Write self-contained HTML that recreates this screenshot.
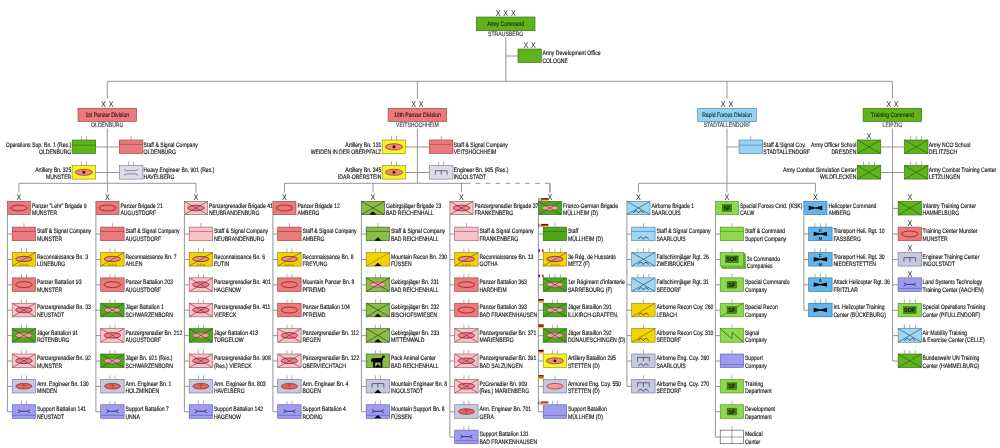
<!DOCTYPE html>
<html><head><meta charset="utf-8"><title>German Army Structure</title>
<style>
html,body{margin:0;padding:0;background:#fff;}
body{width:1000px;height:448px;overflow:hidden;}
svg{display:block;filter:blur(0.45px);}
text{font-family:"Liberation Sans",Arial,sans-serif;text-rendering:geometricPrecision;}
</style></head><body>
<svg width="1000" height="448" viewBox="0 0 1000 448">
<rect width="1000" height="448" fill="#fff"/>
<rect x="476.30" y="17.00" width="58.70" height="13.70" fill="#5fb31b" stroke="#2f6a08" stroke-width="0.6"/>
<text transform="translate(505.65 26.20) scale(0.8 1)" font-size="6.4" text-anchor="middle" fill="#16300a" stroke="#16300a" stroke-width="0.14">Army Command</text>
<text transform="translate(498.10 15.90) scale(0.86 1)" font-size="8.4" text-anchor="middle" fill="#1a1a1a">X</text>
<text transform="translate(505.70 15.90) scale(0.86 1)" font-size="8.4" text-anchor="middle" fill="#1a1a1a">X</text>
<text transform="translate(513.30 15.90) scale(0.86 1)" font-size="8.4" text-anchor="middle" fill="#1a1a1a">X</text>
<text transform="translate(505.70 36.30) scale(0.8 1)" font-size="6.4" text-anchor="middle" fill="#333" stroke="#333" stroke-width="0.14">STRAUSBERG</text>
<line x1="505.90" y1="37.50" x2="505.90" y2="81.30" stroke="#8a8a8a" stroke-width="0.9"/>
<line x1="505.90" y1="56.00" x2="518.00" y2="56.00" stroke="#8a8a8a" stroke-width="0.9"/>
<rect x="518.00" y="49.00" width="23.40" height="13.50" fill="#5fb31b" stroke="#2f6a08" stroke-width="0.6"/>
<text transform="translate(525.90 47.60) scale(0.86 1)" font-size="8.4" text-anchor="middle" fill="#1a1a1a">X</text>
<text transform="translate(533.50 47.60) scale(0.86 1)" font-size="8.4" text-anchor="middle" fill="#1a1a1a">X</text>
<text transform="translate(542.40 55.30) scale(0.8 1)" font-size="6.4" fill="#111111" stroke="#111111" stroke-width="0.14">Army Development Office</text>
<text transform="translate(542.40 62.60) scale(0.8 1)" font-size="6.4" fill="#111111" stroke="#111111" stroke-width="0.14">COLOGNE</text>
<line x1="107.30" y1="81.30" x2="892.40" y2="81.30" stroke="#8a8a8a" stroke-width="0.9"/>
<line x1="107.30" y1="81.30" x2="107.30" y2="98.60" stroke="#8a8a8a" stroke-width="0.9"/>
<text transform="translate(103.50 106.70) scale(0.86 1)" font-size="8.4" text-anchor="middle" fill="#1a1a1a">X</text>
<text transform="translate(111.10 106.70) scale(0.86 1)" font-size="8.4" text-anchor="middle" fill="#1a1a1a">X</text>
<rect x="78.00" y="108.30" width="58.60" height="13.30" fill="#ea7a7c" stroke="#9b3b3b" stroke-width="0.6"/>
<text transform="translate(107.30 117.00) scale(0.8 1)" font-size="6.4" text-anchor="middle" fill="#3a1010" stroke="#3a1010" stroke-width="0.14">1st Panzer Division</text>
<text transform="translate(107.30 127.40) scale(0.8 1)" font-size="6.4" text-anchor="middle" fill="#3a4252" stroke="#3a4252" stroke-width="0.14">OLDENBURG</text>
<line x1="417.40" y1="81.30" x2="417.40" y2="98.60" stroke="#8a8a8a" stroke-width="0.9"/>
<text transform="translate(413.60 106.70) scale(0.86 1)" font-size="8.4" text-anchor="middle" fill="#1a1a1a">X</text>
<text transform="translate(421.20 106.70) scale(0.86 1)" font-size="8.4" text-anchor="middle" fill="#1a1a1a">X</text>
<rect x="388.10" y="108.30" width="58.60" height="13.30" fill="#ea7a7c" stroke="#9b3b3b" stroke-width="0.6"/>
<text transform="translate(417.40 117.00) scale(0.8 1)" font-size="6.4" text-anchor="middle" fill="#3a1010" stroke="#3a1010" stroke-width="0.14">10th Panzer Division</text>
<text transform="translate(417.40 127.40) scale(0.8 1)" font-size="6.4" text-anchor="middle" fill="#3a4252" stroke="#3a4252" stroke-width="0.14">VEITSHÖCHHEIM</text>
<line x1="727.00" y1="81.30" x2="727.00" y2="98.60" stroke="#8a8a8a" stroke-width="0.9"/>
<text transform="translate(723.20 106.70) scale(0.86 1)" font-size="8.4" text-anchor="middle" fill="#1a1a1a">X</text>
<text transform="translate(730.80 106.70) scale(0.86 1)" font-size="8.4" text-anchor="middle" fill="#1a1a1a">X</text>
<rect x="697.70" y="108.30" width="58.60" height="13.30" fill="#95d3f3" stroke="#4a7a9a" stroke-width="0.6"/>
<text transform="translate(727.00 117.00) scale(0.8 1)" font-size="6.4" text-anchor="middle" fill="#102a4a" stroke="#102a4a" stroke-width="0.14">Rapid Forces Division</text>
<text transform="translate(727.00 127.40) scale(0.8 1)" font-size="6.4" text-anchor="middle" fill="#3a4252" stroke="#3a4252" stroke-width="0.14">STADTALLENDORF</text>
<line x1="892.40" y1="81.30" x2="892.40" y2="98.60" stroke="#8a8a8a" stroke-width="0.9"/>
<text transform="translate(888.60 106.70) scale(0.86 1)" font-size="8.4" text-anchor="middle" fill="#1a1a1a">X</text>
<text transform="translate(896.20 106.70) scale(0.86 1)" font-size="8.4" text-anchor="middle" fill="#1a1a1a">X</text>
<rect x="863.10" y="108.30" width="58.60" height="13.30" fill="#5fb31b" stroke="#2f6a08" stroke-width="0.6"/>
<text transform="translate(892.40 117.00) scale(0.8 1)" font-size="6.4" text-anchor="middle" fill="#16300a" stroke="#16300a" stroke-width="0.14">Training Command</text>
<text transform="translate(892.40 127.40) scale(0.8 1)" font-size="6.4" text-anchor="middle" fill="#3a4252" stroke="#3a4252" stroke-width="0.14">LEIPZIG</text>
<line x1="107.30" y1="128.60" x2="107.30" y2="183.30" stroke="#8a8a8a" stroke-width="0.9"/>
<rect x="72.10" y="140.00" width="23.60" height="13.60" fill="#5fb31b" stroke="#2f6a08" stroke-width="0.6"/>
<line x1="72.10" y1="145.17" x2="95.70" y2="145.17" stroke="#2f6a08" stroke-width="0.6"/>
<line x1="81.40" y1="136.00" x2="81.40" y2="140.00" stroke="#777" stroke-width="0.6"/>
<line x1="86.40" y1="136.00" x2="86.40" y2="140.00" stroke="#777" stroke-width="0.6"/>
<text transform="translate(71.30 146.70) scale(0.8 1)" font-size="6.4" text-anchor="end" fill="#111111" stroke="#111111" stroke-width="0.14">Operations Sup. Bn. 1 (Res.)</text>
<text transform="translate(71.30 153.70) scale(0.8 1)" font-size="6.4" text-anchor="end" fill="#111111" stroke="#111111" stroke-width="0.14">OLDENBURG</text>
<line x1="95.70" y1="147.00" x2="107.30" y2="147.00" stroke="#8a8a8a" stroke-width="0.9"/>
<rect x="119.30" y="140.00" width="23.60" height="13.60" fill="#ea7a7c" stroke="#9b3b3b" stroke-width="0.6"/>
<line x1="119.30" y1="144.35" x2="142.90" y2="144.35" stroke="#9b3b3b" stroke-width="0.6"/>
<line x1="131.10" y1="136.00" x2="131.10" y2="140.00" stroke="#777" stroke-width="0.6"/>
<text transform="translate(143.60 146.70) scale(0.8 1)" font-size="6.4" fill="#111111" stroke="#111111" stroke-width="0.14">Staff &amp; Signal Company</text>
<text transform="translate(143.60 153.70) scale(0.8 1)" font-size="6.4" fill="#111111" stroke="#111111" stroke-width="0.14">OLDENBURG</text>
<line x1="107.30" y1="147.00" x2="119.30" y2="147.00" stroke="#8a8a8a" stroke-width="0.9"/>
<rect x="72.10" y="165.50" width="23.60" height="13.60" fill="#f5f520" stroke="#8a8a20" stroke-width="0.6"/>
<ellipse cx="83.90" cy="172.30" rx="8.60" ry="3.00" fill="#ef8a86" stroke="#9a2a1a" stroke-width="0.7"/>
<circle cx="83.90" cy="172.30" r="1.4" fill="#000"/>
<line x1="81.40" y1="161.50" x2="81.40" y2="165.50" stroke="#777" stroke-width="0.6"/>
<line x1="86.40" y1="161.50" x2="86.40" y2="165.50" stroke="#777" stroke-width="0.6"/>
<text transform="translate(71.30 172.20) scale(0.8 1)" font-size="6.4" text-anchor="end" fill="#111111" stroke="#111111" stroke-width="0.14">Artillery Bn. 325</text>
<text transform="translate(71.30 179.20) scale(0.8 1)" font-size="6.4" text-anchor="end" fill="#111111" stroke="#111111" stroke-width="0.14">MUNSTER</text>
<line x1="95.70" y1="172.50" x2="107.30" y2="172.50" stroke="#8a8a8a" stroke-width="0.9"/>
<rect x="119.30" y="165.50" width="23.60" height="13.60" fill="#dcdde9" stroke="#7a7a86" stroke-width="0.6"/>
<path d="M124.02 169.31L126.38 170.67H135.82L138.18 169.31M124.02 175.29L126.38 173.93H135.82L138.18 175.29" fill="none" stroke="#4a4a5a" stroke-width="0.6"/>
<line x1="128.60" y1="161.50" x2="128.60" y2="165.50" stroke="#777" stroke-width="0.6"/>
<line x1="133.60" y1="161.50" x2="133.60" y2="165.50" stroke="#777" stroke-width="0.6"/>
<text transform="translate(143.60 172.20) scale(0.8 1)" font-size="6.4" fill="#111111" stroke="#111111" stroke-width="0.14">Heavy Engineer Bn. 901 (Res.)</text>
<text transform="translate(143.60 179.20) scale(0.8 1)" font-size="6.4" fill="#111111" stroke="#111111" stroke-width="0.14">HAVELBERG</text>
<line x1="107.30" y1="172.50" x2="119.30" y2="172.50" stroke="#8a8a8a" stroke-width="0.9"/>
<line x1="417.40" y1="128.60" x2="417.40" y2="183.30" stroke="#8a8a8a" stroke-width="0.9"/>
<rect x="382.20" y="140.00" width="23.60" height="13.60" fill="#f5f520" stroke="#8a8a20" stroke-width="0.6"/>
<ellipse cx="394.00" cy="146.80" rx="8.60" ry="3.00" fill="#ef8a86" stroke="#9a2a1a" stroke-width="0.7"/>
<circle cx="394.00" cy="146.80" r="1.4" fill="#000"/>
<line x1="391.50" y1="136.00" x2="391.50" y2="140.00" stroke="#777" stroke-width="0.6"/>
<line x1="396.50" y1="136.00" x2="396.50" y2="140.00" stroke="#777" stroke-width="0.6"/>
<text transform="translate(381.40 146.70) scale(0.8 1)" font-size="6.4" text-anchor="end" fill="#111111" stroke="#111111" stroke-width="0.14">Artillery Bn. 131</text>
<text transform="translate(381.40 153.70) scale(0.8 1)" font-size="6.4" text-anchor="end" fill="#111111" stroke="#111111" stroke-width="0.14">WEIDEN IN DER OBERPFALZ</text>
<line x1="405.80" y1="147.00" x2="417.40" y2="147.00" stroke="#8a8a8a" stroke-width="0.9"/>
<rect x="429.40" y="140.00" width="23.60" height="13.60" fill="#ea7a7c" stroke="#9b3b3b" stroke-width="0.6"/>
<line x1="429.40" y1="144.35" x2="453.00" y2="144.35" stroke="#9b3b3b" stroke-width="0.6"/>
<line x1="441.20" y1="136.00" x2="441.20" y2="140.00" stroke="#777" stroke-width="0.6"/>
<text transform="translate(453.70 146.70) scale(0.8 1)" font-size="6.4" fill="#111111" stroke="#111111" stroke-width="0.14">Staff &amp; Signal Company</text>
<text transform="translate(453.70 153.70) scale(0.8 1)" font-size="6.4" fill="#111111" stroke="#111111" stroke-width="0.14">VEITSHÖCHHEIM</text>
<line x1="417.40" y1="147.00" x2="429.40" y2="147.00" stroke="#8a8a8a" stroke-width="0.9"/>
<rect x="382.20" y="165.50" width="23.60" height="13.60" fill="#f5f520" stroke="#8a8a20" stroke-width="0.6"/>
<ellipse cx="394.00" cy="172.30" rx="8.60" ry="3.00" fill="#ef8a86" stroke="#9a2a1a" stroke-width="0.7"/>
<circle cx="394.00" cy="172.30" r="1.4" fill="#000"/>
<line x1="391.50" y1="161.50" x2="391.50" y2="165.50" stroke="#777" stroke-width="0.6"/>
<line x1="396.50" y1="161.50" x2="396.50" y2="165.50" stroke="#777" stroke-width="0.6"/>
<text transform="translate(381.40 172.20) scale(0.8 1)" font-size="6.4" text-anchor="end" fill="#111111" stroke="#111111" stroke-width="0.14">Artillery Bn. 345</text>
<text transform="translate(381.40 179.20) scale(0.8 1)" font-size="6.4" text-anchor="end" fill="#111111" stroke="#111111" stroke-width="0.14">IDAR-OBERSTEIN</text>
<line x1="405.80" y1="172.50" x2="417.40" y2="172.50" stroke="#8a8a8a" stroke-width="0.9"/>
<rect x="429.40" y="165.50" width="23.60" height="13.60" fill="#dcdde9" stroke="#7a7a86" stroke-width="0.6"/>
<path d="M435.30 174.60V170.70H447.10V174.60M441.20 170.70V174.60" fill="none" stroke="#383850" stroke-width="0.7"/>
<line x1="438.70" y1="161.50" x2="438.70" y2="165.50" stroke="#777" stroke-width="0.6"/>
<line x1="443.70" y1="161.50" x2="443.70" y2="165.50" stroke="#777" stroke-width="0.6"/>
<text transform="translate(453.70 172.20) scale(0.8 1)" font-size="6.4" fill="#111111" stroke="#111111" stroke-width="0.14">Engineer Bn. 905 (Res.)</text>
<text transform="translate(453.70 179.20) scale(0.8 1)" font-size="6.4" fill="#111111" stroke="#111111" stroke-width="0.14">INGOLSTADT</text>
<line x1="417.40" y1="172.50" x2="429.40" y2="172.50" stroke="#8a8a8a" stroke-width="0.9"/>
<line x1="727.00" y1="128.60" x2="727.00" y2="183.30" stroke="#8a8a8a" stroke-width="0.9"/>
<rect x="739.00" y="140.00" width="23.60" height="13.60" fill="#95d3f3" stroke="#4a7a9a" stroke-width="0.6"/>
<line x1="739.00" y1="145.17" x2="762.60" y2="145.17" stroke="#4a7a9a" stroke-width="0.6"/>
<line x1="750.80" y1="136.00" x2="750.80" y2="140.00" stroke="#777" stroke-width="0.6"/>
<text transform="translate(763.30 146.70) scale(0.8 1)" font-size="6.4" fill="#111111" stroke="#111111" stroke-width="0.14">Staff &amp; Signal Coy.</text>
<text transform="translate(763.30 153.70) scale(0.8 1)" font-size="6.4" fill="#111111" stroke="#111111" stroke-width="0.14">STADTALLENDORF</text>
<line x1="727.00" y1="147.00" x2="739.00" y2="147.00" stroke="#8a8a8a" stroke-width="0.9"/>
<rect x="857.20" y="140.00" width="23.60" height="13.60" fill="#5fb31b" stroke="#2f6a08" stroke-width="0.6"/>
<path d="M857.20 140.00L880.80 153.60M880.80 140.00L857.20 153.60" stroke="#2a5a10" stroke-width="0.65" fill="none"/>
<text transform="translate(856.40 146.70) scale(0.8 1)" font-size="6.4" text-anchor="end" fill="#111111" stroke="#111111" stroke-width="0.14">Army Officer School</text>
<text transform="translate(856.40 153.70) scale(0.8 1)" font-size="6.4" text-anchor="end" fill="#111111" stroke="#111111" stroke-width="0.14">DRESDEN</text>
<line x1="880.80" y1="147.00" x2="892.40" y2="147.00" stroke="#8a8a8a" stroke-width="0.9"/>
<text transform="translate(869.00 139.00) scale(0.86 1)" font-size="8.4" text-anchor="middle" fill="#1a1a1a">X</text>
<rect x="904.40" y="140.00" width="23.60" height="13.60" fill="#5fb31b" stroke="#2f6a08" stroke-width="0.6"/>
<path d="M904.40 140.00L928.00 153.60M928.00 140.00L904.40 153.60" stroke="#2a5a10" stroke-width="0.65" fill="none"/>
<line x1="910.70" y1="136.00" x2="910.70" y2="140.00" stroke="#777" stroke-width="0.6"/>
<line x1="916.20" y1="136.00" x2="916.20" y2="140.00" stroke="#777" stroke-width="0.6"/>
<line x1="921.70" y1="136.00" x2="921.70" y2="140.00" stroke="#777" stroke-width="0.6"/>
<text transform="translate(928.70 146.70) scale(0.8 1)" font-size="6.4" fill="#111111" stroke="#111111" stroke-width="0.14">Army NCO School</text>
<text transform="translate(928.70 153.70) scale(0.8 1)" font-size="6.4" fill="#111111" stroke="#111111" stroke-width="0.14">DELITZSCH</text>
<line x1="892.40" y1="147.00" x2="904.40" y2="147.00" stroke="#8a8a8a" stroke-width="0.9"/>
<rect x="857.20" y="165.50" width="23.60" height="13.60" fill="#5fb31b" stroke="#2f6a08" stroke-width="0.6"/>
<path d="M857.20 165.50L880.80 179.10M880.80 165.50L857.20 179.10" stroke="#2a5a10" stroke-width="0.65" fill="none"/>
<line x1="863.50" y1="161.50" x2="863.50" y2="165.50" stroke="#777" stroke-width="0.6"/>
<line x1="869.00" y1="161.50" x2="869.00" y2="165.50" stroke="#777" stroke-width="0.6"/>
<line x1="874.50" y1="161.50" x2="874.50" y2="165.50" stroke="#777" stroke-width="0.6"/>
<text transform="translate(856.40 172.20) scale(0.8 1)" font-size="6.4" text-anchor="end" fill="#111111" stroke="#111111" stroke-width="0.14">Army Combat Simulation Center</text>
<text transform="translate(856.40 179.20) scale(0.8 1)" font-size="6.4" text-anchor="end" fill="#111111" stroke="#111111" stroke-width="0.14">WILDFLECKEN</text>
<line x1="880.80" y1="172.50" x2="892.40" y2="172.50" stroke="#8a8a8a" stroke-width="0.9"/>
<rect x="904.40" y="165.50" width="23.60" height="13.60" fill="#5fb31b" stroke="#2f6a08" stroke-width="0.6"/>
<path d="M904.40 165.50L928.00 179.10M928.00 165.50L904.40 179.10" stroke="#2a5a10" stroke-width="0.65" fill="none"/>
<line x1="910.70" y1="161.50" x2="910.70" y2="165.50" stroke="#777" stroke-width="0.6"/>
<line x1="916.20" y1="161.50" x2="916.20" y2="165.50" stroke="#777" stroke-width="0.6"/>
<line x1="921.70" y1="161.50" x2="921.70" y2="165.50" stroke="#777" stroke-width="0.6"/>
<text transform="translate(928.70 172.20) scale(0.8 1)" font-size="6.4" fill="#111111" stroke="#111111" stroke-width="0.14">Army Combat Training Center</text>
<text transform="translate(928.70 179.20) scale(0.8 1)" font-size="6.4" fill="#111111" stroke="#111111" stroke-width="0.14">LETZLINGEN</text>
<line x1="892.40" y1="172.50" x2="904.40" y2="172.50" stroke="#8a8a8a" stroke-width="0.9"/>
<line x1="18.95" y1="183.30" x2="195.95" y2="183.30" stroke="#8a8a8a" stroke-width="0.9"/>
<line x1="284.45" y1="183.30" x2="470.50" y2="183.30" stroke="#8a8a8a" stroke-width="0.9"/>
<line x1="470.50" y1="183.30" x2="549.95" y2="183.30" stroke="#8a8a8a" stroke-width="0.9" stroke-dasharray="4.7,5.2" stroke-dashoffset="4.7"/>
<line x1="549.95" y1="183.30" x2="549.95" y2="192.00" stroke="#8a8a8a" stroke-width="0.9"/>
<line x1="638.45" y1="183.30" x2="815.45" y2="183.30" stroke="#8a8a8a" stroke-width="0.9"/>
<line x1="18.95" y1="183.30" x2="18.95" y2="192.60" stroke="#8a8a8a" stroke-width="0.9"/>
<text transform="translate(18.95 200.00) scale(0.86 1)" font-size="8.4" text-anchor="middle" fill="#1a1a1a">X</text>
<rect x="7.40" y="201.40" width="23.10" height="13.20" fill="#ea7a7c" stroke="#9b3b3b" stroke-width="0.6"/>
<ellipse cx="18.95" cy="208.00" rx="8.20" ry="2.90" fill="#ea7a7c" stroke="#9a2020" stroke-width="0.85"/>
<text transform="translate(31.90 207.60) scale(0.8 1)" font-size="6.4" fill="#111111" stroke="#111111" stroke-width="0.14">Panzer &quot;Lehr&quot; Brigade 9</text>
<text transform="translate(31.90 215.20) scale(0.8 1)" font-size="6.4" fill="#111111" stroke="#111111" stroke-width="0.14">MUNSTER</text>
<line x1="7.40" y1="214.60" x2="7.40" y2="411.76" stroke="#8a8a8a" stroke-width="0.9"/>
<line x1="7.40" y1="234.10" x2="12.20" y2="234.10" stroke="#8a8a8a" stroke-width="0.9"/>
<rect x="12.20" y="227.10" width="23.40" height="13.60" fill="#ea7a7c" stroke="#9b3b3b" stroke-width="0.6"/>
<line x1="12.20" y1="231.45" x2="35.60" y2="231.45" stroke="#9b3b3b" stroke-width="0.6"/>
<line x1="23.90" y1="223.10" x2="23.90" y2="227.10" stroke="#777" stroke-width="0.6"/>
<text transform="translate(36.90 233.30) scale(0.8 1)" font-size="6.4" fill="#111111" stroke="#111111" stroke-width="0.14">Staff &amp; Signal Company</text>
<text transform="translate(36.90 240.90) scale(0.8 1)" font-size="6.4" fill="#111111" stroke="#111111" stroke-width="0.14">MUNSTER</text>
<line x1="7.40" y1="259.48" x2="12.20" y2="259.48" stroke="#8a8a8a" stroke-width="0.9"/>
<rect x="12.20" y="252.48" width="23.40" height="13.60" fill="#f3d400" stroke="#8a7a10" stroke-width="0.6"/>
<ellipse cx="23.90" cy="258.98" rx="8.20" ry="2.60" fill="#eb8c88" stroke="#8a2a1a" stroke-width="0.8"/>
<path d="M12.20 266.08L35.60 252.48" stroke="#5a4a10" stroke-width="0.6" fill="none"/>
<circle cx="20.70" cy="264.78" r="0.9" fill="none" stroke="#7a4020" stroke-width="0.35"/>
<circle cx="23.90" cy="264.78" r="0.9" fill="none" stroke="#7a4020" stroke-width="0.35"/>
<circle cx="27.10" cy="264.78" r="0.9" fill="none" stroke="#7a4020" stroke-width="0.35"/>
<line x1="21.40" y1="248.48" x2="21.40" y2="252.48" stroke="#777" stroke-width="0.6"/>
<line x1="26.40" y1="248.48" x2="26.40" y2="252.48" stroke="#777" stroke-width="0.6"/>
<text transform="translate(36.90 258.68) scale(0.8 1)" font-size="6.4" fill="#111111" stroke="#111111" stroke-width="0.14">Reconnaissance Bn. 3</text>
<text transform="translate(36.90 266.28) scale(0.8 1)" font-size="6.4" fill="#111111" stroke="#111111" stroke-width="0.14">LÜNEBURG</text>
<line x1="7.40" y1="284.86" x2="12.20" y2="284.86" stroke="#8a8a8a" stroke-width="0.9"/>
<rect x="12.20" y="277.86" width="23.40" height="13.60" fill="#ea7a7c" stroke="#9b3b3b" stroke-width="0.6"/>
<ellipse cx="23.90" cy="284.66" rx="8.20" ry="2.90" fill="#ea7a7c" stroke="#9a2020" stroke-width="0.85"/>
<line x1="21.40" y1="273.86" x2="21.40" y2="277.86" stroke="#777" stroke-width="0.6"/>
<line x1="26.40" y1="273.86" x2="26.40" y2="277.86" stroke="#777" stroke-width="0.6"/>
<text transform="translate(36.90 284.06) scale(0.8 1)" font-size="6.4" fill="#111111" stroke="#111111" stroke-width="0.14">Panzer Battalion 93</text>
<text transform="translate(36.90 291.66) scale(0.8 1)" font-size="6.4" fill="#111111" stroke="#111111" stroke-width="0.14">MUNSTER</text>
<line x1="7.40" y1="310.24" x2="12.20" y2="310.24" stroke="#8a8a8a" stroke-width="0.9"/>
<rect x="12.20" y="303.24" width="23.40" height="13.60" fill="#f8c2c8" stroke="#8a5a60" stroke-width="0.6"/>
<ellipse cx="23.90" cy="310.04" rx="8.20" ry="2.80" fill="#e4848e" stroke="#9a2434" stroke-width="0.85"/>
<path d="M12.20 303.24L35.60 316.84M35.60 303.24L12.20 316.84" stroke="#7a2a38" stroke-width="0.6" fill="none"/>
<line x1="21.40" y1="299.24" x2="21.40" y2="303.24" stroke="#777" stroke-width="0.6"/>
<line x1="26.40" y1="299.24" x2="26.40" y2="303.24" stroke="#777" stroke-width="0.6"/>
<text transform="translate(36.90 309.44) scale(0.8 1)" font-size="6.4" fill="#111111" stroke="#111111" stroke-width="0.14">Panzergrenadier Bn. 33</text>
<text transform="translate(36.90 317.04) scale(0.8 1)" font-size="6.4" fill="#111111" stroke="#111111" stroke-width="0.14">NEUSTADT</text>
<line x1="7.40" y1="335.62" x2="12.20" y2="335.62" stroke="#8a8a8a" stroke-width="0.9"/>
<rect x="12.20" y="328.62" width="23.40" height="13.60" fill="#4fa81c" stroke="#2a6410" stroke-width="0.6"/>
<ellipse cx="23.90" cy="335.42" rx="8.20" ry="2.60" fill="#f0a0a4" stroke="#9a3a3a" stroke-width="0.6"/>
<path d="M12.20 328.62L35.60 342.22M35.60 328.62L12.20 342.22" stroke="#2a5a10" stroke-width="0.65" fill="none"/>
<line x1="21.40" y1="324.62" x2="21.40" y2="328.62" stroke="#777" stroke-width="0.6"/>
<line x1="26.40" y1="324.62" x2="26.40" y2="328.62" stroke="#777" stroke-width="0.6"/>
<text transform="translate(36.90 334.82) scale(0.8 1)" font-size="6.4" fill="#111111" stroke="#111111" stroke-width="0.14">Jäger Battalion 91</text>
<text transform="translate(36.90 342.42) scale(0.8 1)" font-size="6.4" fill="#111111" stroke="#111111" stroke-width="0.14">ROTENBURG</text>
<line x1="7.40" y1="361.00" x2="12.20" y2="361.00" stroke="#8a8a8a" stroke-width="0.9"/>
<rect x="12.20" y="354.00" width="23.40" height="13.60" fill="#f8c2c8" stroke="#8a5a60" stroke-width="0.6"/>
<ellipse cx="23.90" cy="360.80" rx="8.20" ry="2.80" fill="#e4848e" stroke="#9a2434" stroke-width="0.85"/>
<path d="M12.20 354.00L35.60 367.60M35.60 354.00L12.20 367.60" stroke="#7a2a38" stroke-width="0.6" fill="none"/>
<line x1="21.40" y1="350.00" x2="21.40" y2="354.00" stroke="#777" stroke-width="0.6"/>
<line x1="26.40" y1="350.00" x2="26.40" y2="354.00" stroke="#777" stroke-width="0.6"/>
<text transform="translate(36.90 360.20) scale(0.8 1)" font-size="6.4" fill="#111111" stroke="#111111" stroke-width="0.14">Panzergrenadier Bn. 92</text>
<text transform="translate(36.90 367.80) scale(0.8 1)" font-size="6.4" fill="#111111" stroke="#111111" stroke-width="0.14">MUNSTER</text>
<line x1="7.40" y1="386.38" x2="12.20" y2="386.38" stroke="#8a8a8a" stroke-width="0.9"/>
<rect x="12.20" y="379.38" width="23.40" height="13.60" fill="#c6c8df" stroke="#6f7190" stroke-width="0.6"/>
<ellipse cx="23.90" cy="386.18" rx="8.00" ry="2.80" fill="#e8645c" stroke="#8a2020" stroke-width="0.7"/>
<line x1="23.90" y1="383.88" x2="23.90" y2="388.48" stroke="#8a2020" stroke-width="0.4"/>
<line x1="20.90" y1="384.98" x2="26.90" y2="384.98" stroke="#8a2020" stroke-width="0.35"/>
<line x1="21.40" y1="375.38" x2="21.40" y2="379.38" stroke="#777" stroke-width="0.6"/>
<line x1="26.40" y1="375.38" x2="26.40" y2="379.38" stroke="#777" stroke-width="0.6"/>
<text transform="translate(36.90 385.58) scale(0.8 1)" font-size="6.4" fill="#111111" stroke="#111111" stroke-width="0.14">Arm. Engineer Bn. 130</text>
<text transform="translate(36.90 393.18) scale(0.8 1)" font-size="6.4" fill="#111111" stroke="#111111" stroke-width="0.14">MINDEN</text>
<line x1="7.40" y1="411.76" x2="12.20" y2="411.76" stroke="#8a8a8a" stroke-width="0.9"/>
<rect x="12.20" y="404.76" width="23.40" height="13.60" fill="#9d9cf0" stroke="#5a5aa8" stroke-width="0.6"/>
<path d="M17.90 409.66Q19.70 410.96 20.50 411.26Q19.70 411.56 17.90 412.86M20.50 411.26H27.30M29.90 409.66Q28.10 410.96 27.30 411.26Q28.10 411.56 29.90 412.86" fill="none" stroke="#1a1a5a" stroke-width="0.75"/>
<line x1="12.20" y1="415.36" x2="35.60" y2="415.36" stroke="#5a5aa8" stroke-width="0.6"/>
<line x1="21.40" y1="400.76" x2="21.40" y2="404.76" stroke="#777" stroke-width="0.6"/>
<line x1="26.40" y1="400.76" x2="26.40" y2="404.76" stroke="#777" stroke-width="0.6"/>
<text transform="translate(36.90 410.96) scale(0.8 1)" font-size="6.4" fill="#111111" stroke="#111111" stroke-width="0.14">Support Battalion 141</text>
<text transform="translate(36.90 418.56) scale(0.8 1)" font-size="6.4" fill="#111111" stroke="#111111" stroke-width="0.14">NEUSTADT</text>
<line x1="107.45" y1="183.30" x2="107.45" y2="192.60" stroke="#8a8a8a" stroke-width="0.9"/>
<text transform="translate(107.45 200.00) scale(0.86 1)" font-size="8.4" text-anchor="middle" fill="#1a1a1a">X</text>
<rect x="95.90" y="201.40" width="23.10" height="13.20" fill="#ea7a7c" stroke="#9b3b3b" stroke-width="0.6"/>
<ellipse cx="107.45" cy="208.00" rx="8.20" ry="2.90" fill="#ea7a7c" stroke="#9a2020" stroke-width="0.85"/>
<text transform="translate(120.40 207.60) scale(0.8 1)" font-size="6.4" fill="#111111" stroke="#111111" stroke-width="0.14">Panzer Brigade 21</text>
<text transform="translate(120.40 215.20) scale(0.8 1)" font-size="6.4" fill="#111111" stroke="#111111" stroke-width="0.14">AUGUSTDORF</text>
<line x1="95.90" y1="214.60" x2="95.90" y2="411.76" stroke="#8a8a8a" stroke-width="0.9"/>
<line x1="95.90" y1="234.10" x2="100.70" y2="234.10" stroke="#8a8a8a" stroke-width="0.9"/>
<rect x="100.70" y="227.10" width="23.40" height="13.60" fill="#ea7a7c" stroke="#9b3b3b" stroke-width="0.6"/>
<line x1="100.70" y1="231.45" x2="124.10" y2="231.45" stroke="#9b3b3b" stroke-width="0.6"/>
<line x1="112.40" y1="223.10" x2="112.40" y2="227.10" stroke="#777" stroke-width="0.6"/>
<text transform="translate(125.40 233.30) scale(0.8 1)" font-size="6.4" fill="#111111" stroke="#111111" stroke-width="0.14">Staff &amp; Signal Company</text>
<text transform="translate(125.40 240.90) scale(0.8 1)" font-size="6.4" fill="#111111" stroke="#111111" stroke-width="0.14">AUGUSTDORF</text>
<line x1="95.90" y1="259.48" x2="100.70" y2="259.48" stroke="#8a8a8a" stroke-width="0.9"/>
<rect x="100.70" y="252.48" width="23.40" height="13.60" fill="#f3d400" stroke="#8a7a10" stroke-width="0.6"/>
<ellipse cx="112.40" cy="258.98" rx="8.20" ry="2.60" fill="#eb8c88" stroke="#8a2a1a" stroke-width="0.8"/>
<path d="M100.70 266.08L124.10 252.48" stroke="#5a4a10" stroke-width="0.6" fill="none"/>
<circle cx="109.20" cy="264.78" r="0.9" fill="none" stroke="#7a4020" stroke-width="0.35"/>
<circle cx="112.40" cy="264.78" r="0.9" fill="none" stroke="#7a4020" stroke-width="0.35"/>
<circle cx="115.60" cy="264.78" r="0.9" fill="none" stroke="#7a4020" stroke-width="0.35"/>
<line x1="109.90" y1="248.48" x2="109.90" y2="252.48" stroke="#777" stroke-width="0.6"/>
<line x1="114.90" y1="248.48" x2="114.90" y2="252.48" stroke="#777" stroke-width="0.6"/>
<text transform="translate(125.40 258.68) scale(0.8 1)" font-size="6.4" fill="#111111" stroke="#111111" stroke-width="0.14">Reconnaissance Bn. 7</text>
<text transform="translate(125.40 266.28) scale(0.8 1)" font-size="6.4" fill="#111111" stroke="#111111" stroke-width="0.14">AHLEN</text>
<line x1="95.90" y1="284.86" x2="100.70" y2="284.86" stroke="#8a8a8a" stroke-width="0.9"/>
<rect x="100.70" y="277.86" width="23.40" height="13.60" fill="#ea7a7c" stroke="#9b3b3b" stroke-width="0.6"/>
<ellipse cx="112.40" cy="284.66" rx="8.20" ry="2.90" fill="#ea7a7c" stroke="#9a2020" stroke-width="0.85"/>
<line x1="109.90" y1="273.86" x2="109.90" y2="277.86" stroke="#777" stroke-width="0.6"/>
<line x1="114.90" y1="273.86" x2="114.90" y2="277.86" stroke="#777" stroke-width="0.6"/>
<text transform="translate(125.40 284.06) scale(0.8 1)" font-size="6.4" fill="#111111" stroke="#111111" stroke-width="0.14">Panzer Battalion 203</text>
<text transform="translate(125.40 291.66) scale(0.8 1)" font-size="6.4" fill="#111111" stroke="#111111" stroke-width="0.14">AUGUSTDORF</text>
<line x1="95.90" y1="310.24" x2="100.70" y2="310.24" stroke="#8a8a8a" stroke-width="0.9"/>
<rect x="100.70" y="303.24" width="23.40" height="13.60" fill="#4fa81c" stroke="#2a6410" stroke-width="0.6"/>
<ellipse cx="112.40" cy="310.04" rx="8.20" ry="2.60" fill="#f0a0a4" stroke="#9a3a3a" stroke-width="0.6"/>
<path d="M100.70 303.24L124.10 316.84M124.10 303.24L100.70 316.84" stroke="#2a5a10" stroke-width="0.65" fill="none"/>
<line x1="109.90" y1="299.24" x2="109.90" y2="303.24" stroke="#777" stroke-width="0.6"/>
<line x1="114.90" y1="299.24" x2="114.90" y2="303.24" stroke="#777" stroke-width="0.6"/>
<text transform="translate(125.40 309.44) scale(0.8 1)" font-size="6.4" fill="#111111" stroke="#111111" stroke-width="0.14">Jäger Battalion 1</text>
<text transform="translate(125.40 317.04) scale(0.8 1)" font-size="6.4" fill="#111111" stroke="#111111" stroke-width="0.14">SCHWARZENBORN</text>
<line x1="95.90" y1="335.62" x2="100.70" y2="335.62" stroke="#8a8a8a" stroke-width="0.9"/>
<rect x="100.70" y="328.62" width="23.40" height="13.60" fill="#f8c2c8" stroke="#8a5a60" stroke-width="0.6"/>
<ellipse cx="112.40" cy="335.42" rx="8.20" ry="2.80" fill="#e4848e" stroke="#9a2434" stroke-width="0.85"/>
<path d="M100.70 328.62L124.10 342.22M124.10 328.62L100.70 342.22" stroke="#7a2a38" stroke-width="0.6" fill="none"/>
<line x1="109.90" y1="324.62" x2="109.90" y2="328.62" stroke="#777" stroke-width="0.6"/>
<line x1="114.90" y1="324.62" x2="114.90" y2="328.62" stroke="#777" stroke-width="0.6"/>
<text transform="translate(125.40 334.82) scale(0.8 1)" font-size="6.4" fill="#111111" stroke="#111111" stroke-width="0.14">Panzergrenadier Bn. 212</text>
<text transform="translate(125.40 342.42) scale(0.8 1)" font-size="6.4" fill="#111111" stroke="#111111" stroke-width="0.14">AUGUSTDORF</text>
<line x1="95.90" y1="361.00" x2="100.70" y2="361.00" stroke="#8a8a8a" stroke-width="0.9"/>
<rect x="100.70" y="354.00" width="23.40" height="13.60" fill="#4fa81c" stroke="#2a6410" stroke-width="0.6"/>
<ellipse cx="112.40" cy="360.80" rx="8.20" ry="2.60" fill="#f0a0a4" stroke="#9a3a3a" stroke-width="0.6"/>
<path d="M100.70 354.00L124.10 367.60M124.10 354.00L100.70 367.60" stroke="#2a5a10" stroke-width="0.65" fill="none"/>
<line x1="109.90" y1="350.00" x2="109.90" y2="354.00" stroke="#777" stroke-width="0.6"/>
<line x1="114.90" y1="350.00" x2="114.90" y2="354.00" stroke="#777" stroke-width="0.6"/>
<text transform="translate(125.40 360.20) scale(0.8 1)" font-size="6.4" fill="#111111" stroke="#111111" stroke-width="0.14">Jäger Bn. 921 (Res.)</text>
<text transform="translate(125.40 367.80) scale(0.8 1)" font-size="6.4" fill="#111111" stroke="#111111" stroke-width="0.14">SCHWARZENBORN</text>
<line x1="95.90" y1="386.38" x2="100.70" y2="386.38" stroke="#8a8a8a" stroke-width="0.9"/>
<rect x="100.70" y="379.38" width="23.40" height="13.60" fill="#c6c8df" stroke="#6f7190" stroke-width="0.6"/>
<ellipse cx="112.40" cy="386.18" rx="8.00" ry="2.80" fill="#e8645c" stroke="#8a2020" stroke-width="0.7"/>
<line x1="112.40" y1="383.88" x2="112.40" y2="388.48" stroke="#8a2020" stroke-width="0.4"/>
<line x1="109.40" y1="384.98" x2="115.40" y2="384.98" stroke="#8a2020" stroke-width="0.35"/>
<line x1="109.90" y1="375.38" x2="109.90" y2="379.38" stroke="#777" stroke-width="0.6"/>
<line x1="114.90" y1="375.38" x2="114.90" y2="379.38" stroke="#777" stroke-width="0.6"/>
<text transform="translate(125.40 385.58) scale(0.8 1)" font-size="6.4" fill="#111111" stroke="#111111" stroke-width="0.14">Arm. Engineer Bn. 1</text>
<text transform="translate(125.40 393.18) scale(0.8 1)" font-size="6.4" fill="#111111" stroke="#111111" stroke-width="0.14">HOLZMINDEN</text>
<line x1="95.90" y1="411.76" x2="100.70" y2="411.76" stroke="#8a8a8a" stroke-width="0.9"/>
<rect x="100.70" y="404.76" width="23.40" height="13.60" fill="#9d9cf0" stroke="#5a5aa8" stroke-width="0.6"/>
<path d="M106.40 409.66Q108.20 410.96 109.00 411.26Q108.20 411.56 106.40 412.86M109.00 411.26H115.80M118.40 409.66Q116.60 410.96 115.80 411.26Q116.60 411.56 118.40 412.86" fill="none" stroke="#1a1a5a" stroke-width="0.75"/>
<line x1="100.70" y1="415.36" x2="124.10" y2="415.36" stroke="#5a5aa8" stroke-width="0.6"/>
<line x1="109.90" y1="400.76" x2="109.90" y2="404.76" stroke="#777" stroke-width="0.6"/>
<line x1="114.90" y1="400.76" x2="114.90" y2="404.76" stroke="#777" stroke-width="0.6"/>
<text transform="translate(125.40 410.96) scale(0.8 1)" font-size="6.4" fill="#111111" stroke="#111111" stroke-width="0.14">Support Battalion 7</text>
<text transform="translate(125.40 418.56) scale(0.8 1)" font-size="6.4" fill="#111111" stroke="#111111" stroke-width="0.14">UNNA</text>
<line x1="195.95" y1="183.30" x2="195.95" y2="192.60" stroke="#8a8a8a" stroke-width="0.9"/>
<text transform="translate(195.95 200.00) scale(0.86 1)" font-size="8.4" text-anchor="middle" fill="#1a1a1a">X</text>
<rect x="184.40" y="201.40" width="23.10" height="13.20" fill="#f8c2c8" stroke="#8a5a60" stroke-width="0.6"/>
<ellipse cx="195.95" cy="208.00" rx="8.20" ry="2.80" fill="#e4848e" stroke="#9a2434" stroke-width="0.85"/>
<path d="M184.40 201.40L207.50 214.60M207.50 201.40L184.40 214.60" stroke="#7a2a38" stroke-width="0.6" fill="none"/>
<text transform="translate(208.90 207.60) scale(0.8 1)" font-size="6.4" fill="#111111" stroke="#111111" stroke-width="0.14">Panzergrenadier Brigade 41</text>
<text transform="translate(208.90 215.20) scale(0.8 1)" font-size="6.4" fill="#111111" stroke="#111111" stroke-width="0.14">NEUBRANDENBURG</text>
<line x1="184.40" y1="214.60" x2="184.40" y2="411.76" stroke="#8a8a8a" stroke-width="0.9"/>
<line x1="184.40" y1="234.10" x2="189.20" y2="234.10" stroke="#8a8a8a" stroke-width="0.9"/>
<rect x="189.20" y="227.10" width="23.40" height="13.60" fill="#f8c2c8" stroke="#8a5a60" stroke-width="0.6"/>
<line x1="189.20" y1="231.45" x2="212.60" y2="231.45" stroke="#8a5a60" stroke-width="0.6"/>
<line x1="200.90" y1="223.10" x2="200.90" y2="227.10" stroke="#777" stroke-width="0.6"/>
<text transform="translate(213.90 233.30) scale(0.8 1)" font-size="6.4" fill="#111111" stroke="#111111" stroke-width="0.14">Staff &amp; Signal Company</text>
<text transform="translate(213.90 240.90) scale(0.8 1)" font-size="6.4" fill="#111111" stroke="#111111" stroke-width="0.14">NEUBRANDENBURG</text>
<line x1="184.40" y1="259.48" x2="189.20" y2="259.48" stroke="#8a8a8a" stroke-width="0.9"/>
<rect x="189.20" y="252.48" width="23.40" height="13.60" fill="#f3d400" stroke="#8a7a10" stroke-width="0.6"/>
<ellipse cx="200.90" cy="258.98" rx="8.20" ry="2.60" fill="#eb8c88" stroke="#8a2a1a" stroke-width="0.8"/>
<path d="M189.20 266.08L212.60 252.48" stroke="#5a4a10" stroke-width="0.6" fill="none"/>
<circle cx="197.70" cy="264.78" r="0.9" fill="none" stroke="#7a4020" stroke-width="0.35"/>
<circle cx="200.90" cy="264.78" r="0.9" fill="none" stroke="#7a4020" stroke-width="0.35"/>
<circle cx="204.10" cy="264.78" r="0.9" fill="none" stroke="#7a4020" stroke-width="0.35"/>
<line x1="198.40" y1="248.48" x2="198.40" y2="252.48" stroke="#777" stroke-width="0.6"/>
<line x1="203.40" y1="248.48" x2="203.40" y2="252.48" stroke="#777" stroke-width="0.6"/>
<text transform="translate(213.90 258.68) scale(0.8 1)" font-size="6.4" fill="#111111" stroke="#111111" stroke-width="0.14">Reconnaissance Bn. 6</text>
<text transform="translate(213.90 266.28) scale(0.8 1)" font-size="6.4" fill="#111111" stroke="#111111" stroke-width="0.14">EUTIN</text>
<line x1="184.40" y1="284.86" x2="189.20" y2="284.86" stroke="#8a8a8a" stroke-width="0.9"/>
<rect x="189.20" y="277.86" width="23.40" height="13.60" fill="#f8c2c8" stroke="#8a5a60" stroke-width="0.6"/>
<ellipse cx="200.90" cy="284.66" rx="8.20" ry="2.80" fill="#e4848e" stroke="#9a2434" stroke-width="0.85"/>
<path d="M189.20 277.86L212.60 291.46M212.60 277.86L189.20 291.46" stroke="#7a2a38" stroke-width="0.6" fill="none"/>
<line x1="198.40" y1="273.86" x2="198.40" y2="277.86" stroke="#777" stroke-width="0.6"/>
<line x1="203.40" y1="273.86" x2="203.40" y2="277.86" stroke="#777" stroke-width="0.6"/>
<text transform="translate(213.90 284.06) scale(0.8 1)" font-size="6.4" fill="#111111" stroke="#111111" stroke-width="0.14">Panzergrenadier Bn. 401</text>
<text transform="translate(213.90 291.66) scale(0.8 1)" font-size="6.4" fill="#111111" stroke="#111111" stroke-width="0.14">HAGENOW</text>
<line x1="184.40" y1="310.24" x2="189.20" y2="310.24" stroke="#8a8a8a" stroke-width="0.9"/>
<rect x="189.20" y="303.24" width="23.40" height="13.60" fill="#f8c2c8" stroke="#8a5a60" stroke-width="0.6"/>
<ellipse cx="200.90" cy="310.04" rx="8.20" ry="2.80" fill="#e4848e" stroke="#9a2434" stroke-width="0.85"/>
<path d="M189.20 303.24L212.60 316.84M212.60 303.24L189.20 316.84" stroke="#7a2a38" stroke-width="0.6" fill="none"/>
<line x1="198.40" y1="299.24" x2="198.40" y2="303.24" stroke="#777" stroke-width="0.6"/>
<line x1="203.40" y1="299.24" x2="203.40" y2="303.24" stroke="#777" stroke-width="0.6"/>
<text transform="translate(213.90 309.44) scale(0.8 1)" font-size="6.4" fill="#111111" stroke="#111111" stroke-width="0.14">Panzergrenadier Bn. 411</text>
<text transform="translate(213.90 317.04) scale(0.8 1)" font-size="6.4" fill="#111111" stroke="#111111" stroke-width="0.14">VIERECK</text>
<line x1="184.40" y1="335.62" x2="189.20" y2="335.62" stroke="#8a8a8a" stroke-width="0.9"/>
<rect x="189.20" y="328.62" width="23.40" height="13.60" fill="#4fa81c" stroke="#2a6410" stroke-width="0.6"/>
<ellipse cx="200.90" cy="335.42" rx="8.20" ry="2.60" fill="#f0a0a4" stroke="#9a3a3a" stroke-width="0.6"/>
<path d="M189.20 328.62L212.60 342.22M212.60 328.62L189.20 342.22" stroke="#2a5a10" stroke-width="0.65" fill="none"/>
<line x1="198.40" y1="324.62" x2="198.40" y2="328.62" stroke="#777" stroke-width="0.6"/>
<line x1="203.40" y1="324.62" x2="203.40" y2="328.62" stroke="#777" stroke-width="0.6"/>
<text transform="translate(213.90 334.82) scale(0.8 1)" font-size="6.4" fill="#111111" stroke="#111111" stroke-width="0.14">Jäger Battalion 413</text>
<text transform="translate(213.90 342.42) scale(0.8 1)" font-size="6.4" fill="#111111" stroke="#111111" stroke-width="0.14">TORGELOW</text>
<line x1="184.40" y1="361.00" x2="189.20" y2="361.00" stroke="#8a8a8a" stroke-width="0.9"/>
<rect x="189.20" y="354.00" width="23.40" height="13.60" fill="#f8c2c8" stroke="#8a5a60" stroke-width="0.6"/>
<ellipse cx="200.90" cy="360.80" rx="8.20" ry="2.80" fill="#e4848e" stroke="#9a2434" stroke-width="0.85"/>
<path d="M189.20 354.00L212.60 367.60M212.60 354.00L189.20 367.60" stroke="#7a2a38" stroke-width="0.6" fill="none"/>
<line x1="198.40" y1="350.00" x2="198.40" y2="354.00" stroke="#777" stroke-width="0.6"/>
<line x1="203.40" y1="350.00" x2="203.40" y2="354.00" stroke="#777" stroke-width="0.6"/>
<text transform="translate(213.90 360.20) scale(0.8 1)" font-size="6.4" fill="#111111" stroke="#111111" stroke-width="0.14">Panzergrenadier Bn. 908</text>
<text transform="translate(213.90 367.80) scale(0.8 1)" font-size="6.4" fill="#111111" stroke="#111111" stroke-width="0.14">(Res.) VIERECK</text>
<line x1="184.40" y1="386.38" x2="189.20" y2="386.38" stroke="#8a8a8a" stroke-width="0.9"/>
<rect x="189.20" y="379.38" width="23.40" height="13.60" fill="#c6c8df" stroke="#6f7190" stroke-width="0.6"/>
<ellipse cx="200.90" cy="386.18" rx="8.00" ry="2.80" fill="#e8645c" stroke="#8a2020" stroke-width="0.7"/>
<line x1="200.90" y1="383.88" x2="200.90" y2="388.48" stroke="#8a2020" stroke-width="0.4"/>
<line x1="197.90" y1="384.98" x2="203.90" y2="384.98" stroke="#8a2020" stroke-width="0.35"/>
<line x1="198.40" y1="375.38" x2="198.40" y2="379.38" stroke="#777" stroke-width="0.6"/>
<line x1="203.40" y1="375.38" x2="203.40" y2="379.38" stroke="#777" stroke-width="0.6"/>
<text transform="translate(213.90 385.58) scale(0.8 1)" font-size="6.4" fill="#111111" stroke="#111111" stroke-width="0.14">Arm. Engineer Bn. 803</text>
<text transform="translate(213.90 393.18) scale(0.8 1)" font-size="6.4" fill="#111111" stroke="#111111" stroke-width="0.14">HAVELBERG</text>
<line x1="184.40" y1="411.76" x2="189.20" y2="411.76" stroke="#8a8a8a" stroke-width="0.9"/>
<rect x="189.20" y="404.76" width="23.40" height="13.60" fill="#9d9cf0" stroke="#5a5aa8" stroke-width="0.6"/>
<path d="M194.90 409.66Q196.70 410.96 197.50 411.26Q196.70 411.56 194.90 412.86M197.50 411.26H204.30M206.90 409.66Q205.10 410.96 204.30 411.26Q205.10 411.56 206.90 412.86" fill="none" stroke="#1a1a5a" stroke-width="0.75"/>
<line x1="189.20" y1="415.36" x2="212.60" y2="415.36" stroke="#5a5aa8" stroke-width="0.6"/>
<line x1="198.40" y1="400.76" x2="198.40" y2="404.76" stroke="#777" stroke-width="0.6"/>
<line x1="203.40" y1="400.76" x2="203.40" y2="404.76" stroke="#777" stroke-width="0.6"/>
<text transform="translate(213.90 410.96) scale(0.8 1)" font-size="6.4" fill="#111111" stroke="#111111" stroke-width="0.14">Support Battalion 142</text>
<text transform="translate(213.90 418.56) scale(0.8 1)" font-size="6.4" fill="#111111" stroke="#111111" stroke-width="0.14">HAGENOW</text>
<line x1="284.45" y1="183.30" x2="284.45" y2="192.60" stroke="#8a8a8a" stroke-width="0.9"/>
<text transform="translate(284.45 200.00) scale(0.86 1)" font-size="8.4" text-anchor="middle" fill="#1a1a1a">X</text>
<rect x="272.90" y="201.40" width="23.10" height="13.20" fill="#ea7a7c" stroke="#9b3b3b" stroke-width="0.6"/>
<ellipse cx="284.45" cy="208.00" rx="8.20" ry="2.90" fill="#ea7a7c" stroke="#9a2020" stroke-width="0.85"/>
<text transform="translate(297.40 207.60) scale(0.8 1)" font-size="6.4" fill="#111111" stroke="#111111" stroke-width="0.14">Panzer Brigade 12</text>
<text transform="translate(297.40 215.20) scale(0.8 1)" font-size="6.4" fill="#111111" stroke="#111111" stroke-width="0.14">AMBERG</text>
<line x1="272.90" y1="214.60" x2="272.90" y2="411.76" stroke="#8a8a8a" stroke-width="0.9"/>
<line x1="272.90" y1="234.10" x2="277.70" y2="234.10" stroke="#8a8a8a" stroke-width="0.9"/>
<rect x="277.70" y="227.10" width="23.40" height="13.60" fill="#ea7a7c" stroke="#9b3b3b" stroke-width="0.6"/>
<line x1="277.70" y1="231.45" x2="301.10" y2="231.45" stroke="#9b3b3b" stroke-width="0.6"/>
<line x1="289.40" y1="223.10" x2="289.40" y2="227.10" stroke="#777" stroke-width="0.6"/>
<text transform="translate(302.40 233.30) scale(0.8 1)" font-size="6.4" fill="#111111" stroke="#111111" stroke-width="0.14">Staff &amp; Signal Company</text>
<text transform="translate(302.40 240.90) scale(0.8 1)" font-size="6.4" fill="#111111" stroke="#111111" stroke-width="0.14">AMBERG</text>
<line x1="272.90" y1="259.48" x2="277.70" y2="259.48" stroke="#8a8a8a" stroke-width="0.9"/>
<rect x="277.70" y="252.48" width="23.40" height="13.60" fill="#f3d400" stroke="#8a7a10" stroke-width="0.6"/>
<ellipse cx="289.40" cy="258.98" rx="8.20" ry="2.60" fill="#eb8c88" stroke="#8a2a1a" stroke-width="0.8"/>
<path d="M277.70 266.08L301.10 252.48" stroke="#5a4a10" stroke-width="0.6" fill="none"/>
<circle cx="286.20" cy="264.78" r="0.9" fill="none" stroke="#7a4020" stroke-width="0.35"/>
<circle cx="289.40" cy="264.78" r="0.9" fill="none" stroke="#7a4020" stroke-width="0.35"/>
<circle cx="292.60" cy="264.78" r="0.9" fill="none" stroke="#7a4020" stroke-width="0.35"/>
<line x1="286.90" y1="248.48" x2="286.90" y2="252.48" stroke="#777" stroke-width="0.6"/>
<line x1="291.90" y1="248.48" x2="291.90" y2="252.48" stroke="#777" stroke-width="0.6"/>
<text transform="translate(302.40 258.68) scale(0.8 1)" font-size="6.4" fill="#111111" stroke="#111111" stroke-width="0.14">Reconnaissance Bn. 8</text>
<text transform="translate(302.40 266.28) scale(0.8 1)" font-size="6.4" fill="#111111" stroke="#111111" stroke-width="0.14">FREYUNG</text>
<line x1="272.90" y1="284.86" x2="277.70" y2="284.86" stroke="#8a8a8a" stroke-width="0.9"/>
<rect x="277.70" y="277.86" width="23.40" height="13.60" fill="#ea7a7c" stroke="#9b3b3b" stroke-width="0.6"/>
<ellipse cx="289.40" cy="284.66" rx="8.20" ry="2.90" fill="#ea7a7c" stroke="#9a2020" stroke-width="0.85"/>
<line x1="286.90" y1="273.86" x2="286.90" y2="277.86" stroke="#777" stroke-width="0.6"/>
<line x1="291.90" y1="273.86" x2="291.90" y2="277.86" stroke="#777" stroke-width="0.6"/>
<text transform="translate(302.40 284.06) scale(0.8 1)" font-size="6.4" fill="#111111" stroke="#111111" stroke-width="0.14">Mountain Panzer Bn. 8</text>
<text transform="translate(302.40 291.66) scale(0.8 1)" font-size="6.4" fill="#111111" stroke="#111111" stroke-width="0.14">PFREIMD</text>
<line x1="272.90" y1="310.24" x2="277.70" y2="310.24" stroke="#8a8a8a" stroke-width="0.9"/>
<rect x="277.70" y="303.24" width="23.40" height="13.60" fill="#ea7a7c" stroke="#9b3b3b" stroke-width="0.6"/>
<ellipse cx="289.40" cy="310.04" rx="8.20" ry="2.90" fill="#ea7a7c" stroke="#9a2020" stroke-width="0.85"/>
<line x1="286.90" y1="299.24" x2="286.90" y2="303.24" stroke="#777" stroke-width="0.6"/>
<line x1="291.90" y1="299.24" x2="291.90" y2="303.24" stroke="#777" stroke-width="0.6"/>
<text transform="translate(302.40 309.44) scale(0.8 1)" font-size="6.4" fill="#111111" stroke="#111111" stroke-width="0.14">Panzer Battalion 104</text>
<text transform="translate(302.40 317.04) scale(0.8 1)" font-size="6.4" fill="#111111" stroke="#111111" stroke-width="0.14">PFREIMD</text>
<line x1="272.90" y1="335.62" x2="277.70" y2="335.62" stroke="#8a8a8a" stroke-width="0.9"/>
<rect x="277.70" y="328.62" width="23.40" height="13.60" fill="#f8c2c8" stroke="#8a5a60" stroke-width="0.6"/>
<ellipse cx="289.40" cy="335.42" rx="8.20" ry="2.80" fill="#e4848e" stroke="#9a2434" stroke-width="0.85"/>
<path d="M277.70 328.62L301.10 342.22M301.10 328.62L277.70 342.22" stroke="#7a2a38" stroke-width="0.6" fill="none"/>
<line x1="286.90" y1="324.62" x2="286.90" y2="328.62" stroke="#777" stroke-width="0.6"/>
<line x1="291.90" y1="324.62" x2="291.90" y2="328.62" stroke="#777" stroke-width="0.6"/>
<text transform="translate(302.40 334.82) scale(0.8 1)" font-size="6.4" fill="#111111" stroke="#111111" stroke-width="0.14">Panzergrenadier Bn. 112</text>
<text transform="translate(302.40 342.42) scale(0.8 1)" font-size="6.4" fill="#111111" stroke="#111111" stroke-width="0.14">REGEN</text>
<line x1="272.90" y1="361.00" x2="277.70" y2="361.00" stroke="#8a8a8a" stroke-width="0.9"/>
<rect x="277.70" y="354.00" width="23.40" height="13.60" fill="#f8c2c8" stroke="#8a5a60" stroke-width="0.6"/>
<ellipse cx="289.40" cy="360.80" rx="8.20" ry="2.80" fill="#e4848e" stroke="#9a2434" stroke-width="0.85"/>
<path d="M277.70 354.00L301.10 367.60M301.10 354.00L277.70 367.60" stroke="#7a2a38" stroke-width="0.6" fill="none"/>
<line x1="286.90" y1="350.00" x2="286.90" y2="354.00" stroke="#777" stroke-width="0.6"/>
<line x1="291.90" y1="350.00" x2="291.90" y2="354.00" stroke="#777" stroke-width="0.6"/>
<text transform="translate(302.40 360.20) scale(0.8 1)" font-size="6.4" fill="#111111" stroke="#111111" stroke-width="0.14">Panzergrenadier Bn. 122</text>
<text transform="translate(302.40 367.80) scale(0.8 1)" font-size="6.4" fill="#111111" stroke="#111111" stroke-width="0.14">OBERVIECHTACH</text>
<line x1="272.90" y1="386.38" x2="277.70" y2="386.38" stroke="#8a8a8a" stroke-width="0.9"/>
<rect x="277.70" y="379.38" width="23.40" height="13.60" fill="#c6c8df" stroke="#6f7190" stroke-width="0.6"/>
<ellipse cx="289.40" cy="386.18" rx="8.00" ry="2.80" fill="#e8645c" stroke="#8a2020" stroke-width="0.7"/>
<line x1="289.40" y1="383.88" x2="289.40" y2="388.48" stroke="#8a2020" stroke-width="0.4"/>
<line x1="286.40" y1="384.98" x2="292.40" y2="384.98" stroke="#8a2020" stroke-width="0.35"/>
<line x1="286.90" y1="375.38" x2="286.90" y2="379.38" stroke="#777" stroke-width="0.6"/>
<line x1="291.90" y1="375.38" x2="291.90" y2="379.38" stroke="#777" stroke-width="0.6"/>
<text transform="translate(302.40 385.58) scale(0.8 1)" font-size="6.4" fill="#111111" stroke="#111111" stroke-width="0.14">Arm. Engineer Bn. 4</text>
<text transform="translate(302.40 393.18) scale(0.8 1)" font-size="6.4" fill="#111111" stroke="#111111" stroke-width="0.14">BOGEN</text>
<line x1="272.90" y1="411.76" x2="277.70" y2="411.76" stroke="#8a8a8a" stroke-width="0.9"/>
<rect x="277.70" y="404.76" width="23.40" height="13.60" fill="#9d9cf0" stroke="#5a5aa8" stroke-width="0.6"/>
<path d="M283.40 409.66Q285.20 410.96 286.00 411.26Q285.20 411.56 283.40 412.86M286.00 411.26H292.80M295.40 409.66Q293.60 410.96 292.80 411.26Q293.60 411.56 295.40 412.86" fill="none" stroke="#1a1a5a" stroke-width="0.75"/>
<line x1="277.70" y1="415.36" x2="301.10" y2="415.36" stroke="#5a5aa8" stroke-width="0.6"/>
<line x1="286.90" y1="400.76" x2="286.90" y2="404.76" stroke="#777" stroke-width="0.6"/>
<line x1="291.90" y1="400.76" x2="291.90" y2="404.76" stroke="#777" stroke-width="0.6"/>
<text transform="translate(302.40 410.96) scale(0.8 1)" font-size="6.4" fill="#111111" stroke="#111111" stroke-width="0.14">Support Battalion 4</text>
<text transform="translate(302.40 418.56) scale(0.8 1)" font-size="6.4" fill="#111111" stroke="#111111" stroke-width="0.14">RODING</text>
<line x1="372.95" y1="183.30" x2="372.95" y2="192.60" stroke="#8a8a8a" stroke-width="0.9"/>
<text transform="translate(372.95 200.00) scale(0.86 1)" font-size="8.4" text-anchor="middle" fill="#1a1a1a">X</text>
<rect x="361.40" y="201.40" width="23.10" height="13.20" fill="#8cbd48" stroke="#34501a" stroke-width="0.6"/>
<path d="M361.40 201.40L384.50 214.60M384.50 201.40L361.40 214.60" stroke="#2a4010" stroke-width="0.65" fill="none"/>
<path d="M369.35 214.60L372.95 211.20L376.55 214.60Z" fill="#000"/>
<text transform="translate(385.90 207.60) scale(0.8 1)" font-size="6.4" fill="#111111" stroke="#111111" stroke-width="0.14">Gebirgsjäger Brigade 23</text>
<text transform="translate(385.90 215.20) scale(0.8 1)" font-size="6.4" fill="#111111" stroke="#111111" stroke-width="0.14">BAD REICHENHALL</text>
<line x1="361.40" y1="214.60" x2="361.40" y2="411.76" stroke="#8a8a8a" stroke-width="0.9"/>
<line x1="361.40" y1="234.10" x2="366.20" y2="234.10" stroke="#8a8a8a" stroke-width="0.9"/>
<rect x="366.20" y="227.10" width="23.40" height="13.60" fill="#8cbd48" stroke="#34501a" stroke-width="0.6"/>
<line x1="366.20" y1="231.45" x2="389.60" y2="231.45" stroke="#34501a" stroke-width="0.6"/>
<path d="M374.30 240.70L377.90 237.30L381.50 240.70Z" fill="#000"/>
<line x1="377.90" y1="223.10" x2="377.90" y2="227.10" stroke="#777" stroke-width="0.6"/>
<text transform="translate(390.90 233.30) scale(0.8 1)" font-size="6.4" fill="#111111" stroke="#111111" stroke-width="0.14">Staff &amp; Signal Company</text>
<text transform="translate(390.90 240.90) scale(0.8 1)" font-size="6.4" fill="#111111" stroke="#111111" stroke-width="0.14">BAD REICHENHALL</text>
<line x1="361.40" y1="259.48" x2="366.20" y2="259.48" stroke="#8a8a8a" stroke-width="0.9"/>
<rect x="366.20" y="252.48" width="23.40" height="13.60" fill="#f3d400" stroke="#8a7a10" stroke-width="0.6"/>
<path d="M366.20 266.08L389.60 252.48" stroke="#6a5a10" stroke-width="0.5" fill="none"/>
<path d="M374.30 266.08L377.90 262.68L381.50 266.08Z" fill="#000"/>
<line x1="375.40" y1="248.48" x2="375.40" y2="252.48" stroke="#777" stroke-width="0.6"/>
<line x1="380.40" y1="248.48" x2="380.40" y2="252.48" stroke="#777" stroke-width="0.6"/>
<text transform="translate(390.90 258.68) scale(0.8 1)" font-size="6.4" fill="#111111" stroke="#111111" stroke-width="0.14">Mountain Recon Bn. 230</text>
<text transform="translate(390.90 266.28) scale(0.8 1)" font-size="6.4" fill="#111111" stroke="#111111" stroke-width="0.14">FÜSSEN</text>
<line x1="361.40" y1="284.86" x2="366.20" y2="284.86" stroke="#8a8a8a" stroke-width="0.9"/>
<rect x="366.20" y="277.86" width="23.40" height="13.60" fill="#8cbd48" stroke="#34501a" stroke-width="0.6"/>
<ellipse cx="377.90" cy="284.66" rx="8.20" ry="2.60" fill="#f0a0a4" stroke="#9a3a3a" stroke-width="0.6"/>
<path d="M366.20 277.86L389.60 291.46M389.60 277.86L366.20 291.46" stroke="#2a4010" stroke-width="0.65" fill="none"/>
<line x1="375.40" y1="273.86" x2="375.40" y2="277.86" stroke="#777" stroke-width="0.6"/>
<line x1="380.40" y1="273.86" x2="380.40" y2="277.86" stroke="#777" stroke-width="0.6"/>
<text transform="translate(390.90 284.06) scale(0.8 1)" font-size="6.4" fill="#111111" stroke="#111111" stroke-width="0.14">Gebirgsjäger Bn. 231</text>
<text transform="translate(390.90 291.66) scale(0.8 1)" font-size="6.4" fill="#111111" stroke="#111111" stroke-width="0.14">BAD REICHENHALL</text>
<line x1="361.40" y1="310.24" x2="366.20" y2="310.24" stroke="#8a8a8a" stroke-width="0.9"/>
<rect x="366.20" y="303.24" width="23.40" height="13.60" fill="#8cbd48" stroke="#34501a" stroke-width="0.6"/>
<path d="M366.20 303.24L389.60 316.84M389.60 303.24L366.20 316.84" stroke="#2a4010" stroke-width="0.65" fill="none"/>
<path d="M374.30 316.84L377.90 313.44L381.50 316.84Z" fill="#000"/>
<line x1="375.40" y1="299.24" x2="375.40" y2="303.24" stroke="#777" stroke-width="0.6"/>
<line x1="380.40" y1="299.24" x2="380.40" y2="303.24" stroke="#777" stroke-width="0.6"/>
<text transform="translate(390.90 309.44) scale(0.8 1)" font-size="6.4" fill="#111111" stroke="#111111" stroke-width="0.14">Gebirgsjäger Bn. 232</text>
<text transform="translate(390.90 317.04) scale(0.8 1)" font-size="6.4" fill="#111111" stroke="#111111" stroke-width="0.14">BISCHOFSWIESEN</text>
<line x1="361.40" y1="335.62" x2="366.20" y2="335.62" stroke="#8a8a8a" stroke-width="0.9"/>
<rect x="366.20" y="328.62" width="23.40" height="13.60" fill="#8cbd48" stroke="#34501a" stroke-width="0.6"/>
<path d="M366.20 328.62L389.60 342.22M389.60 328.62L366.20 342.22" stroke="#2a4010" stroke-width="0.65" fill="none"/>
<path d="M374.30 342.22L377.90 338.82L381.50 342.22Z" fill="#000"/>
<line x1="375.40" y1="324.62" x2="375.40" y2="328.62" stroke="#777" stroke-width="0.6"/>
<line x1="380.40" y1="324.62" x2="380.40" y2="328.62" stroke="#777" stroke-width="0.6"/>
<text transform="translate(390.90 334.82) scale(0.8 1)" font-size="6.4" fill="#111111" stroke="#111111" stroke-width="0.14">Gebirgsjäger Bn. 233</text>
<text transform="translate(390.90 342.42) scale(0.8 1)" font-size="6.4" fill="#111111" stroke="#111111" stroke-width="0.14">MITTENWALD</text>
<line x1="361.40" y1="361.00" x2="366.20" y2="361.00" stroke="#8a8a8a" stroke-width="0.9"/>
<rect x="366.20" y="354.00" width="23.40" height="13.60" fill="#8cbd48" stroke="#34501a" stroke-width="0.6"/>
<path d="M372.30 358.20L381.30 358.10L382.90 355.40L384.10 355.60L385.10 356.80L384.50 357.40L383.50 357.80L382.50 360.20L382.30 367.40L380.70 367.40L380.50 362.40L375.10 362.40L374.90 367.40L373.30 367.40L373.00 362.20L372.00 361.00L371.10 363.40L371.30 359.20Z" fill="#000"/>
<path d="M374.30 367.60L377.90 364.20L381.50 367.60Z" fill="#000"/>
<line x1="375.40" y1="350.00" x2="375.40" y2="354.00" stroke="#777" stroke-width="0.6"/>
<line x1="380.40" y1="350.00" x2="380.40" y2="354.00" stroke="#777" stroke-width="0.6"/>
<text transform="translate(390.90 360.20) scale(0.8 1)" font-size="6.4" fill="#111111" stroke="#111111" stroke-width="0.14">Pack Animal Center</text>
<text transform="translate(390.90 367.80) scale(0.8 1)" font-size="6.4" fill="#111111" stroke="#111111" stroke-width="0.14">BAD REICHENHALL</text>
<line x1="361.40" y1="386.38" x2="366.20" y2="386.38" stroke="#8a8a8a" stroke-width="0.9"/>
<rect x="366.20" y="379.38" width="23.40" height="13.60" fill="#c6c8df" stroke="#6f7190" stroke-width="0.6"/>
<path d="M372.00 387.48V383.58H383.80V387.48M377.90 383.58V387.48" fill="none" stroke="#383850" stroke-width="0.7"/>
<path d="M374.30 392.98L377.90 389.58L381.50 392.98Z" fill="#000"/>
<line x1="375.40" y1="375.38" x2="375.40" y2="379.38" stroke="#777" stroke-width="0.6"/>
<line x1="380.40" y1="375.38" x2="380.40" y2="379.38" stroke="#777" stroke-width="0.6"/>
<text transform="translate(390.90 385.58) scale(0.8 1)" font-size="6.4" fill="#111111" stroke="#111111" stroke-width="0.14">Mountain Engineer Bn. 8</text>
<text transform="translate(390.90 393.18) scale(0.8 1)" font-size="6.4" fill="#111111" stroke="#111111" stroke-width="0.14">INGOLSTADT</text>
<line x1="361.40" y1="411.76" x2="366.20" y2="411.76" stroke="#8a8a8a" stroke-width="0.9"/>
<rect x="366.20" y="404.76" width="23.40" height="13.60" fill="#9d9cf0" stroke="#5a5aa8" stroke-width="0.6"/>
<path d="M371.90 409.66Q373.70 410.96 374.50 411.26Q373.70 411.56 371.90 412.86M374.50 411.26H381.30M383.90 409.66Q382.10 410.96 381.30 411.26Q382.10 411.56 383.90 412.86" fill="none" stroke="#1a1a5a" stroke-width="0.75"/>
<line x1="366.20" y1="415.36" x2="389.60" y2="415.36" stroke="#5a5aa8" stroke-width="0.6"/>
<path d="M374.30 418.36L377.90 414.96L381.50 418.36Z" fill="#000"/>
<line x1="375.40" y1="400.76" x2="375.40" y2="404.76" stroke="#777" stroke-width="0.6"/>
<line x1="380.40" y1="400.76" x2="380.40" y2="404.76" stroke="#777" stroke-width="0.6"/>
<text transform="translate(390.90 410.96) scale(0.8 1)" font-size="6.4" fill="#111111" stroke="#111111" stroke-width="0.14">Mountain Support Bn. 8</text>
<text transform="translate(390.90 418.56) scale(0.8 1)" font-size="6.4" fill="#111111" stroke="#111111" stroke-width="0.14">FÜSSEN</text>
<line x1="461.45" y1="183.30" x2="461.45" y2="192.60" stroke="#8a8a8a" stroke-width="0.9"/>
<text transform="translate(461.45 200.00) scale(0.86 1)" font-size="8.4" text-anchor="middle" fill="#1a1a1a">X</text>
<rect x="449.90" y="201.40" width="23.10" height="13.20" fill="#f8c2c8" stroke="#8a5a60" stroke-width="0.6"/>
<ellipse cx="461.45" cy="208.00" rx="8.20" ry="2.80" fill="#e4848e" stroke="#9a2434" stroke-width="0.85"/>
<path d="M449.90 201.40L473.00 214.60M473.00 201.40L449.90 214.60" stroke="#7a2a38" stroke-width="0.6" fill="none"/>
<text transform="translate(474.40 207.60) scale(0.8 1)" font-size="6.4" fill="#111111" stroke="#111111" stroke-width="0.14">Panzergrenadier Brigade 37</text>
<text transform="translate(474.40 215.20) scale(0.8 1)" font-size="6.4" fill="#111111" stroke="#111111" stroke-width="0.14">FRANKENBERG</text>
<line x1="449.90" y1="214.60" x2="449.90" y2="437.14" stroke="#8a8a8a" stroke-width="0.9"/>
<line x1="449.90" y1="234.10" x2="454.70" y2="234.10" stroke="#8a8a8a" stroke-width="0.9"/>
<rect x="454.70" y="227.10" width="23.40" height="13.60" fill="#f8c2c8" stroke="#8a5a60" stroke-width="0.6"/>
<line x1="454.70" y1="231.45" x2="478.10" y2="231.45" stroke="#8a5a60" stroke-width="0.6"/>
<line x1="466.40" y1="223.10" x2="466.40" y2="227.10" stroke="#777" stroke-width="0.6"/>
<text transform="translate(479.40 233.30) scale(0.8 1)" font-size="6.4" fill="#111111" stroke="#111111" stroke-width="0.14">Staff &amp; Signal Company</text>
<text transform="translate(479.40 240.90) scale(0.8 1)" font-size="6.4" fill="#111111" stroke="#111111" stroke-width="0.14">FRANKENBERG</text>
<line x1="449.90" y1="259.48" x2="454.70" y2="259.48" stroke="#8a8a8a" stroke-width="0.9"/>
<rect x="454.70" y="252.48" width="23.40" height="13.60" fill="#f3d400" stroke="#8a7a10" stroke-width="0.6"/>
<ellipse cx="466.40" cy="258.98" rx="8.20" ry="2.60" fill="#eb8c88" stroke="#8a2a1a" stroke-width="0.8"/>
<path d="M454.70 266.08L478.10 252.48" stroke="#5a4a10" stroke-width="0.6" fill="none"/>
<circle cx="463.20" cy="264.78" r="0.9" fill="none" stroke="#7a4020" stroke-width="0.35"/>
<circle cx="466.40" cy="264.78" r="0.9" fill="none" stroke="#7a4020" stroke-width="0.35"/>
<circle cx="469.60" cy="264.78" r="0.9" fill="none" stroke="#7a4020" stroke-width="0.35"/>
<line x1="463.90" y1="248.48" x2="463.90" y2="252.48" stroke="#777" stroke-width="0.6"/>
<line x1="468.90" y1="248.48" x2="468.90" y2="252.48" stroke="#777" stroke-width="0.6"/>
<text transform="translate(479.40 258.68) scale(0.8 1)" font-size="6.4" fill="#111111" stroke="#111111" stroke-width="0.14">Reconnaissance Bn. 13</text>
<text transform="translate(479.40 266.28) scale(0.8 1)" font-size="6.4" fill="#111111" stroke="#111111" stroke-width="0.14">GOTHA</text>
<line x1="449.90" y1="284.86" x2="454.70" y2="284.86" stroke="#8a8a8a" stroke-width="0.9"/>
<rect x="454.70" y="277.86" width="23.40" height="13.60" fill="#ea7a7c" stroke="#9b3b3b" stroke-width="0.6"/>
<ellipse cx="466.40" cy="284.66" rx="8.20" ry="2.90" fill="#ea7a7c" stroke="#9a2020" stroke-width="0.85"/>
<line x1="463.90" y1="273.86" x2="463.90" y2="277.86" stroke="#777" stroke-width="0.6"/>
<line x1="468.90" y1="273.86" x2="468.90" y2="277.86" stroke="#777" stroke-width="0.6"/>
<text transform="translate(479.40 284.06) scale(0.8 1)" font-size="6.4" fill="#111111" stroke="#111111" stroke-width="0.14">Panzer Battalion 363</text>
<text transform="translate(479.40 291.66) scale(0.8 1)" font-size="6.4" fill="#111111" stroke="#111111" stroke-width="0.14">HARDHEIM</text>
<line x1="449.90" y1="310.24" x2="454.70" y2="310.24" stroke="#8a8a8a" stroke-width="0.9"/>
<rect x="454.70" y="303.24" width="23.40" height="13.60" fill="#ea7a7c" stroke="#9b3b3b" stroke-width="0.6"/>
<ellipse cx="466.40" cy="310.04" rx="8.20" ry="2.90" fill="#ea7a7c" stroke="#9a2020" stroke-width="0.85"/>
<line x1="463.90" y1="299.24" x2="463.90" y2="303.24" stroke="#777" stroke-width="0.6"/>
<line x1="468.90" y1="299.24" x2="468.90" y2="303.24" stroke="#777" stroke-width="0.6"/>
<text transform="translate(479.40 309.44) scale(0.8 1)" font-size="6.4" fill="#111111" stroke="#111111" stroke-width="0.14">Panzer Battalion 393</text>
<text transform="translate(479.40 317.04) scale(0.8 1)" font-size="6.4" fill="#111111" stroke="#111111" stroke-width="0.14">BAD FRANKENHAUSEN</text>
<line x1="449.90" y1="335.62" x2="454.70" y2="335.62" stroke="#8a8a8a" stroke-width="0.9"/>
<rect x="454.70" y="328.62" width="23.40" height="13.60" fill="#f8c2c8" stroke="#8a5a60" stroke-width="0.6"/>
<ellipse cx="466.40" cy="335.42" rx="8.20" ry="2.80" fill="#e4848e" stroke="#9a2434" stroke-width="0.85"/>
<path d="M454.70 328.62L478.10 342.22M478.10 328.62L454.70 342.22" stroke="#7a2a38" stroke-width="0.6" fill="none"/>
<line x1="463.90" y1="324.62" x2="463.90" y2="328.62" stroke="#777" stroke-width="0.6"/>
<line x1="468.90" y1="324.62" x2="468.90" y2="328.62" stroke="#777" stroke-width="0.6"/>
<text transform="translate(479.40 334.82) scale(0.8 1)" font-size="6.4" fill="#111111" stroke="#111111" stroke-width="0.14">Panzergrenadier Bn. 371</text>
<text transform="translate(479.40 342.42) scale(0.8 1)" font-size="6.4" fill="#111111" stroke="#111111" stroke-width="0.14">MARIENBERG</text>
<line x1="449.90" y1="361.00" x2="454.70" y2="361.00" stroke="#8a8a8a" stroke-width="0.9"/>
<rect x="454.70" y="354.00" width="23.40" height="13.60" fill="#f8c2c8" stroke="#8a5a60" stroke-width="0.6"/>
<ellipse cx="466.40" cy="360.80" rx="8.20" ry="2.80" fill="#e4848e" stroke="#9a2434" stroke-width="0.85"/>
<path d="M454.70 354.00L478.10 367.60M478.10 354.00L454.70 367.60" stroke="#7a2a38" stroke-width="0.6" fill="none"/>
<line x1="463.90" y1="350.00" x2="463.90" y2="354.00" stroke="#777" stroke-width="0.6"/>
<line x1="468.90" y1="350.00" x2="468.90" y2="354.00" stroke="#777" stroke-width="0.6"/>
<text transform="translate(479.40 360.20) scale(0.8 1)" font-size="6.4" fill="#111111" stroke="#111111" stroke-width="0.14">Panzergrenadier Bn. 391</text>
<text transform="translate(479.40 367.80) scale(0.8 1)" font-size="6.4" fill="#111111" stroke="#111111" stroke-width="0.14">BAD SALZUNGEN</text>
<line x1="449.90" y1="386.38" x2="454.70" y2="386.38" stroke="#8a8a8a" stroke-width="0.9"/>
<rect x="454.70" y="379.38" width="23.40" height="13.60" fill="#f8c2c8" stroke="#8a5a60" stroke-width="0.6"/>
<ellipse cx="466.40" cy="386.18" rx="8.20" ry="2.80" fill="#e4848e" stroke="#9a2434" stroke-width="0.85"/>
<path d="M454.70 379.38L478.10 392.98M478.10 379.38L454.70 392.98" stroke="#7a2a38" stroke-width="0.6" fill="none"/>
<line x1="463.90" y1="375.38" x2="463.90" y2="379.38" stroke="#777" stroke-width="0.6"/>
<line x1="468.90" y1="375.38" x2="468.90" y2="379.38" stroke="#777" stroke-width="0.6"/>
<text transform="translate(479.40 385.58) scale(0.8 1)" font-size="6.4" fill="#111111" stroke="#111111" stroke-width="0.14">PzGrenadier Bn. 909</text>
<text transform="translate(479.40 393.18) scale(0.8 1)" font-size="6.4" fill="#111111" stroke="#111111" stroke-width="0.14">(Res.) MARIENBERG</text>
<line x1="449.90" y1="411.76" x2="454.70" y2="411.76" stroke="#8a8a8a" stroke-width="0.9"/>
<rect x="454.70" y="404.76" width="23.40" height="13.60" fill="#c6c8df" stroke="#6f7190" stroke-width="0.6"/>
<ellipse cx="466.40" cy="411.56" rx="8.00" ry="2.80" fill="#e8645c" stroke="#8a2020" stroke-width="0.7"/>
<line x1="466.40" y1="409.26" x2="466.40" y2="413.86" stroke="#8a2020" stroke-width="0.4"/>
<line x1="463.40" y1="410.36" x2="469.40" y2="410.36" stroke="#8a2020" stroke-width="0.35"/>
<line x1="463.90" y1="400.76" x2="463.90" y2="404.76" stroke="#777" stroke-width="0.6"/>
<line x1="468.90" y1="400.76" x2="468.90" y2="404.76" stroke="#777" stroke-width="0.6"/>
<text transform="translate(479.40 410.96) scale(0.8 1)" font-size="6.4" fill="#111111" stroke="#111111" stroke-width="0.14">Arm. Engineer Bn. 701</text>
<text transform="translate(479.40 418.56) scale(0.8 1)" font-size="6.4" fill="#111111" stroke="#111111" stroke-width="0.14">GERA</text>
<line x1="449.90" y1="437.14" x2="454.70" y2="437.14" stroke="#8a8a8a" stroke-width="0.9"/>
<rect x="454.70" y="430.14" width="23.40" height="13.60" fill="#9d9cf0" stroke="#5a5aa8" stroke-width="0.6"/>
<path d="M460.40 435.04Q462.20 436.34 463.00 436.64Q462.20 436.94 460.40 438.24M463.00 436.64H469.80M472.40 435.04Q470.60 436.34 469.80 436.64Q470.60 436.94 472.40 438.24" fill="none" stroke="#1a1a5a" stroke-width="0.75"/>
<line x1="454.70" y1="440.74" x2="478.10" y2="440.74" stroke="#5a5aa8" stroke-width="0.6"/>
<line x1="463.90" y1="426.14" x2="463.90" y2="430.14" stroke="#777" stroke-width="0.6"/>
<line x1="468.90" y1="426.14" x2="468.90" y2="430.14" stroke="#777" stroke-width="0.6"/>
<text transform="translate(479.40 436.34) scale(0.8 1)" font-size="6.4" fill="#111111" stroke="#111111" stroke-width="0.14">Support Battalion 131</text>
<text transform="translate(479.40 443.94) scale(0.8 1)" font-size="6.4" fill="#111111" stroke="#111111" stroke-width="0.14">BAD FRANKENHAUSEN</text>
<line x1="549.95" y1="183.30" x2="549.95" y2="192.60" stroke="#8a8a8a" stroke-width="0.9"/>
<text transform="translate(549.95 200.00) scale(0.86 1)" font-size="8.4" text-anchor="middle" fill="#1a1a1a">X</text>
<rect x="538.40" y="201.40" width="23.10" height="13.20" fill="#4fa81c" stroke="#2a6410" stroke-width="0.6"/>
<ellipse cx="549.95" cy="208.00" rx="8.20" ry="2.60" fill="#f0a0a4" stroke="#9a3a3a" stroke-width="0.6"/>
<path d="M538.40 201.40L561.50 214.60M561.50 201.40L538.40 214.60" stroke="#2a5a10" stroke-width="0.65" fill="none"/>
<text transform="translate(562.90 207.60) scale(0.8 1)" font-size="6.4" fill="#111111" stroke="#111111" stroke-width="0.14">Franco-German Brigade</text>
<text transform="translate(562.90 215.20) scale(0.8 1)" font-size="6.4" fill="#111111" stroke="#111111" stroke-width="0.14">MÜLLHEIM (D)</text>
<rect x="538.50" y="198.20" width="1.1" height="3" fill="#1a2a8a"/>
<rect x="539.60" y="198.20" width="1.1" height="3" fill="#fff"/>
<rect x="540.70" y="198.20" width="1.1" height="3" fill="#d02020"/>
<rect x="541.70" y="198.20" width="6.6" height="1" fill="#111"/>
<rect x="541.70" y="199.20" width="6.6" height="1" fill="#d01010"/>
<rect x="541.70" y="200.20" width="6.6" height="1" fill="#f0c010"/>
<line x1="538.40" y1="214.60" x2="538.40" y2="411.76" stroke="#8a8a8a" stroke-width="0.9"/>
<line x1="538.40" y1="234.10" x2="543.20" y2="234.10" stroke="#8a8a8a" stroke-width="0.9"/>
<rect x="543.20" y="227.10" width="23.40" height="13.60" fill="#4fa81c" stroke="#2a6410" stroke-width="0.6"/>
<line x1="543.20" y1="231.45" x2="566.60" y2="231.45" stroke="#2a6410" stroke-width="0.6"/>
<line x1="554.90" y1="223.10" x2="554.90" y2="227.10" stroke="#777" stroke-width="0.6"/>
<text transform="translate(567.90 233.30) scale(0.8 1)" font-size="6.4" fill="#111111" stroke="#111111" stroke-width="0.14">Staff</text>
<text transform="translate(567.90 240.90) scale(0.8 1)" font-size="6.4" fill="#111111" stroke="#111111" stroke-width="0.14">MÜLLHEIM (D)</text>
<rect x="538.50" y="223.90" width="1.1" height="3" fill="#1a2a8a"/>
<rect x="539.60" y="223.90" width="1.1" height="3" fill="#fff"/>
<rect x="540.70" y="223.90" width="1.1" height="3" fill="#d02020"/>
<rect x="541.70" y="223.90" width="6.6" height="1" fill="#111"/>
<rect x="541.70" y="224.90" width="6.6" height="1" fill="#d01010"/>
<rect x="541.70" y="225.90" width="6.6" height="1" fill="#f0c010"/>
<line x1="538.40" y1="259.48" x2="543.20" y2="259.48" stroke="#8a8a8a" stroke-width="0.9"/>
<rect x="543.20" y="252.48" width="23.40" height="13.60" fill="#f3d400" stroke="#8a7a10" stroke-width="0.6"/>
<ellipse cx="554.90" cy="258.98" rx="8.20" ry="2.60" fill="#eb8c88" stroke="#8a2a1a" stroke-width="0.8"/>
<path d="M543.20 266.08L566.60 252.48" stroke="#5a4a10" stroke-width="0.6" fill="none"/>
<circle cx="551.70" cy="264.78" r="0.9" fill="none" stroke="#7a4020" stroke-width="0.35"/>
<circle cx="554.90" cy="264.78" r="0.9" fill="none" stroke="#7a4020" stroke-width="0.35"/>
<circle cx="558.10" cy="264.78" r="0.9" fill="none" stroke="#7a4020" stroke-width="0.35"/>
<line x1="549.40" y1="248.48" x2="549.40" y2="252.48" stroke="#777" stroke-width="0.6"/>
<line x1="554.90" y1="248.48" x2="554.90" y2="252.48" stroke="#777" stroke-width="0.6"/>
<line x1="560.40" y1="248.48" x2="560.40" y2="252.48" stroke="#777" stroke-width="0.6"/>
<text transform="translate(567.90 258.68) scale(0.8 1)" font-size="6.4" fill="#111111" stroke="#111111" stroke-width="0.14">3e Rég. de Hussards</text>
<text transform="translate(567.90 266.28) scale(0.8 1)" font-size="6.4" fill="#111111" stroke="#111111" stroke-width="0.14">METZ (F)</text>
<rect x="538.50" y="249.28" width="1.7" height="2.6" fill="#1a2a8a"/>
<rect x="540.20" y="249.28" width="1.7" height="2.6" fill="#fff"/>
<rect x="541.90" y="249.28" width="1.7" height="2.6" fill="#d02020"/>
<line x1="538.40" y1="284.86" x2="543.20" y2="284.86" stroke="#8a8a8a" stroke-width="0.9"/>
<rect x="543.20" y="277.86" width="23.40" height="13.60" fill="#4fa81c" stroke="#2a6410" stroke-width="0.6"/>
<ellipse cx="554.90" cy="284.66" rx="8.20" ry="2.60" fill="#f0a0a4" stroke="#9a3a3a" stroke-width="0.6"/>
<path d="M543.20 277.86L566.60 291.46M566.60 277.86L543.20 291.46" stroke="#2a5a10" stroke-width="0.65" fill="none"/>
<line x1="549.40" y1="273.86" x2="549.40" y2="277.86" stroke="#777" stroke-width="0.6"/>
<line x1="554.90" y1="273.86" x2="554.90" y2="277.86" stroke="#777" stroke-width="0.6"/>
<line x1="560.40" y1="273.86" x2="560.40" y2="277.86" stroke="#777" stroke-width="0.6"/>
<text transform="translate(567.90 284.06) scale(0.8 1)" font-size="6.4" fill="#111111" stroke="#111111" stroke-width="0.14">1er Régiment d'infanterie</text>
<text transform="translate(567.90 291.66) scale(0.8 1)" font-size="6.4" fill="#111111" stroke="#111111" stroke-width="0.14">SARREBOURG (F)</text>
<rect x="538.50" y="274.66" width="1.7" height="2.6" fill="#1a2a8a"/>
<rect x="540.20" y="274.66" width="1.7" height="2.6" fill="#fff"/>
<rect x="541.90" y="274.66" width="1.7" height="2.6" fill="#d02020"/>
<line x1="538.40" y1="310.24" x2="543.20" y2="310.24" stroke="#8a8a8a" stroke-width="0.9"/>
<rect x="543.20" y="303.24" width="23.40" height="13.60" fill="#4fa81c" stroke="#2a6410" stroke-width="0.6"/>
<ellipse cx="554.90" cy="310.04" rx="8.20" ry="2.60" fill="#f0a0a4" stroke="#9a3a3a" stroke-width="0.6"/>
<path d="M543.20 303.24L566.60 316.84M566.60 303.24L543.20 316.84" stroke="#2a5a10" stroke-width="0.65" fill="none"/>
<line x1="552.40" y1="299.24" x2="552.40" y2="303.24" stroke="#777" stroke-width="0.6"/>
<line x1="557.40" y1="299.24" x2="557.40" y2="303.24" stroke="#777" stroke-width="0.6"/>
<text transform="translate(567.90 309.44) scale(0.8 1)" font-size="6.4" fill="#111111" stroke="#111111" stroke-width="0.14">Jäger Bataillon 291</text>
<text transform="translate(567.90 317.04) scale(0.8 1)" font-size="6.4" fill="#111111" stroke="#111111" stroke-width="0.14">ILLKIRCH-GRAFFEN.</text>
<rect x="538.50" y="299.04" width="5.2" height="1.3" fill="#111"/>
<rect x="538.50" y="300.34" width="5.2" height="1.3" fill="#d01010"/>
<rect x="538.50" y="301.64" width="5.2" height="1.3" fill="#f0c010"/>
<line x1="538.40" y1="335.62" x2="543.20" y2="335.62" stroke="#8a8a8a" stroke-width="0.9"/>
<rect x="543.20" y="328.62" width="23.40" height="13.60" fill="#4fa81c" stroke="#2a6410" stroke-width="0.6"/>
<ellipse cx="554.90" cy="335.42" rx="8.20" ry="2.60" fill="#f0a0a4" stroke="#9a3a3a" stroke-width="0.6"/>
<path d="M543.20 328.62L566.60 342.22M566.60 328.62L543.20 342.22" stroke="#2a5a10" stroke-width="0.65" fill="none"/>
<line x1="552.40" y1="324.62" x2="552.40" y2="328.62" stroke="#777" stroke-width="0.6"/>
<line x1="557.40" y1="324.62" x2="557.40" y2="328.62" stroke="#777" stroke-width="0.6"/>
<text transform="translate(567.90 334.82) scale(0.8 1)" font-size="6.4" fill="#111111" stroke="#111111" stroke-width="0.14">Jäger Bataillon 292</text>
<text transform="translate(567.90 342.42) scale(0.8 1)" font-size="6.4" fill="#111111" stroke="#111111" stroke-width="0.14">DONAUESCHINGEN (D)</text>
<rect x="538.50" y="324.42" width="5.2" height="1.3" fill="#111"/>
<rect x="538.50" y="325.72" width="5.2" height="1.3" fill="#d01010"/>
<rect x="538.50" y="327.02" width="5.2" height="1.3" fill="#f0c010"/>
<line x1="538.40" y1="361.00" x2="543.20" y2="361.00" stroke="#8a8a8a" stroke-width="0.9"/>
<rect x="543.20" y="354.00" width="23.40" height="13.60" fill="#f5f520" stroke="#8a8a20" stroke-width="0.6"/>
<ellipse cx="554.90" cy="360.80" rx="8.60" ry="3.00" fill="#ef8a86" stroke="#9a2a1a" stroke-width="0.7"/>
<circle cx="554.90" cy="360.80" r="1.4" fill="#000"/>
<line x1="552.40" y1="350.00" x2="552.40" y2="354.00" stroke="#777" stroke-width="0.6"/>
<line x1="557.40" y1="350.00" x2="557.40" y2="354.00" stroke="#777" stroke-width="0.6"/>
<text transform="translate(567.90 360.20) scale(0.8 1)" font-size="6.4" fill="#111111" stroke="#111111" stroke-width="0.14">Artillery Bataillon 295</text>
<text transform="translate(567.90 367.80) scale(0.8 1)" font-size="6.4" fill="#111111" stroke="#111111" stroke-width="0.14">STETTEN (D)</text>
<rect x="538.50" y="349.80" width="5.2" height="1.3" fill="#111"/>
<rect x="538.50" y="351.10" width="5.2" height="1.3" fill="#d01010"/>
<rect x="538.50" y="352.40" width="5.2" height="1.3" fill="#f0c010"/>
<line x1="538.40" y1="386.38" x2="543.20" y2="386.38" stroke="#8a8a8a" stroke-width="0.9"/>
<rect x="543.20" y="379.38" width="23.40" height="13.60" fill="#c6c8df" stroke="#6f7190" stroke-width="0.6"/>
<ellipse cx="554.90" cy="386.18" rx="8.00" ry="2.80" fill="#f09a9a" stroke="#9a2a2a" stroke-width="0.7"/>
<line x1="554.90" y1="375.38" x2="554.90" y2="379.38" stroke="#777" stroke-width="0.6"/>
<text transform="translate(567.90 385.58) scale(0.8 1)" font-size="6.4" fill="#111111" stroke="#111111" stroke-width="0.14">Armored Eng. Coy. 550</text>
<text transform="translate(567.90 393.18) scale(0.8 1)" font-size="6.4" fill="#111111" stroke="#111111" stroke-width="0.14">STETTEN (D)</text>
<rect x="538.50" y="375.18" width="5.2" height="1.3" fill="#111"/>
<rect x="538.50" y="376.48" width="5.2" height="1.3" fill="#d01010"/>
<rect x="538.50" y="377.78" width="5.2" height="1.3" fill="#f0c010"/>
<line x1="538.40" y1="411.76" x2="543.20" y2="411.76" stroke="#8a8a8a" stroke-width="0.9"/>
<rect x="543.20" y="404.76" width="23.40" height="13.60" fill="#9d9cf0" stroke="#5a5aa8" stroke-width="0.6"/>
<line x1="543.20" y1="415.36" x2="566.60" y2="415.36" stroke="#5a5aa8" stroke-width="0.6"/>
<line x1="552.40" y1="400.76" x2="552.40" y2="404.76" stroke="#777" stroke-width="0.6"/>
<line x1="557.40" y1="400.76" x2="557.40" y2="404.76" stroke="#777" stroke-width="0.6"/>
<text transform="translate(567.90 410.96) scale(0.8 1)" font-size="6.4" fill="#111111" stroke="#111111" stroke-width="0.14">Support Bataillon</text>
<text transform="translate(567.90 418.56) scale(0.8 1)" font-size="6.4" fill="#111111" stroke="#111111" stroke-width="0.14">MÜLLHEIM (D)</text>
<rect x="538.50" y="401.56" width="1.1" height="3" fill="#1a2a8a"/>
<rect x="539.60" y="401.56" width="1.1" height="3" fill="#fff"/>
<rect x="540.70" y="401.56" width="1.1" height="3" fill="#d02020"/>
<rect x="541.70" y="401.56" width="6.6" height="1" fill="#111"/>
<rect x="541.70" y="402.56" width="6.6" height="1" fill="#d01010"/>
<rect x="541.70" y="403.56" width="6.6" height="1" fill="#f0c010"/>
<line x1="638.45" y1="183.30" x2="638.45" y2="192.60" stroke="#8a8a8a" stroke-width="0.9"/>
<text transform="translate(638.45 200.00) scale(0.86 1)" font-size="8.4" text-anchor="middle" fill="#1a1a1a">X</text>
<rect x="626.90" y="201.40" width="23.10" height="13.20" fill="#9fd6f4" stroke="#4a7a9a" stroke-width="0.6"/>
<path d="M626.90 201.40L650.00 214.60M650.00 201.40L626.90 214.60" stroke="#2a4a6a" stroke-width="0.65" fill="none"/>
<path d="M633.25 213.10Q635.85 208.50 638.45 213.10Q641.05 208.50 643.65 213.10" fill="none" stroke="#16305a" stroke-width="0.75"/>
<text transform="translate(651.40 207.60) scale(0.8 1)" font-size="6.4" fill="#111111" stroke="#111111" stroke-width="0.14">Airborne Brigade 1</text>
<text transform="translate(651.40 215.20) scale(0.8 1)" font-size="6.4" fill="#111111" stroke="#111111" stroke-width="0.14">SAARLOUIS</text>
<line x1="626.90" y1="214.60" x2="626.90" y2="386.38" stroke="#8a8a8a" stroke-width="0.9"/>
<line x1="626.90" y1="234.10" x2="631.70" y2="234.10" stroke="#8a8a8a" stroke-width="0.9"/>
<rect x="631.70" y="227.10" width="23.40" height="13.60" fill="#9fd6f4" stroke="#4a7a9a" stroke-width="0.6"/>
<line x1="631.70" y1="231.45" x2="655.10" y2="231.45" stroke="#4a7a9a" stroke-width="0.6"/>
<path d="M638.20 239.20Q640.80 234.60 643.40 239.20Q646.00 234.60 648.60 239.20" fill="none" stroke="#16305a" stroke-width="0.75"/>
<line x1="643.40" y1="223.10" x2="643.40" y2="227.10" stroke="#777" stroke-width="0.6"/>
<text transform="translate(656.40 233.30) scale(0.8 1)" font-size="6.4" fill="#111111" stroke="#111111" stroke-width="0.14">Staff &amp; Signal Company</text>
<text transform="translate(656.40 240.90) scale(0.8 1)" font-size="6.4" fill="#111111" stroke="#111111" stroke-width="0.14">SAARLOUIS</text>
<line x1="626.90" y1="259.48" x2="631.70" y2="259.48" stroke="#8a8a8a" stroke-width="0.9"/>
<rect x="631.70" y="252.48" width="23.40" height="13.60" fill="#9fd6f4" stroke="#4a7a9a" stroke-width="0.6"/>
<path d="M631.70 252.48L655.10 266.08M655.10 252.48L631.70 266.08" stroke="#2a4a6a" stroke-width="0.65" fill="none"/>
<path d="M638.20 264.58Q640.80 259.98 643.40 264.58Q646.00 259.98 648.60 264.58" fill="none" stroke="#16305a" stroke-width="0.75"/>
<line x1="637.90" y1="248.48" x2="637.90" y2="252.48" stroke="#777" stroke-width="0.6"/>
<line x1="643.40" y1="248.48" x2="643.40" y2="252.48" stroke="#777" stroke-width="0.6"/>
<line x1="648.90" y1="248.48" x2="648.90" y2="252.48" stroke="#777" stroke-width="0.6"/>
<text transform="translate(656.40 258.68) scale(0.8 1)" font-size="6.4" fill="#111111" stroke="#111111" stroke-width="0.14">Fallschirmjäger Rgt. 26</text>
<text transform="translate(656.40 266.28) scale(0.8 1)" font-size="6.4" fill="#111111" stroke="#111111" stroke-width="0.14">ZWEIBRÜCKEN</text>
<line x1="626.90" y1="284.86" x2="631.70" y2="284.86" stroke="#8a8a8a" stroke-width="0.9"/>
<rect x="631.70" y="277.86" width="23.40" height="13.60" fill="#9fd6f4" stroke="#4a7a9a" stroke-width="0.6"/>
<path d="M631.70 277.86L655.10 291.46M655.10 277.86L631.70 291.46" stroke="#2a4a6a" stroke-width="0.65" fill="none"/>
<path d="M638.20 289.96Q640.80 285.36 643.40 289.96Q646.00 285.36 648.60 289.96" fill="none" stroke="#16305a" stroke-width="0.75"/>
<line x1="637.90" y1="273.86" x2="637.90" y2="277.86" stroke="#777" stroke-width="0.6"/>
<line x1="643.40" y1="273.86" x2="643.40" y2="277.86" stroke="#777" stroke-width="0.6"/>
<line x1="648.90" y1="273.86" x2="648.90" y2="277.86" stroke="#777" stroke-width="0.6"/>
<text transform="translate(656.40 284.06) scale(0.8 1)" font-size="6.4" fill="#111111" stroke="#111111" stroke-width="0.14">Fallschirmjäger Rgt. 31</text>
<text transform="translate(656.40 291.66) scale(0.8 1)" font-size="6.4" fill="#111111" stroke="#111111" stroke-width="0.14">SEEDORF</text>
<line x1="626.90" y1="310.24" x2="631.70" y2="310.24" stroke="#8a8a8a" stroke-width="0.9"/>
<rect x="631.70" y="303.24" width="23.40" height="13.60" fill="#f3d400" stroke="#8a7a10" stroke-width="0.6"/>
<path d="M631.70 316.84L655.10 303.24" stroke="#4a4010" stroke-width="0.5" fill="none"/>
<path d="M638.20 315.34Q640.80 310.74 643.40 315.34Q646.00 310.74 648.60 315.34" fill="none" stroke="#3a3010" stroke-width="0.75"/>
<line x1="643.40" y1="299.24" x2="643.40" y2="303.24" stroke="#777" stroke-width="0.6"/>
<text transform="translate(656.40 309.44) scale(0.8 1)" font-size="6.4" fill="#111111" stroke="#111111" stroke-width="0.14">Airborne Recon Coy. 260</text>
<text transform="translate(656.40 317.04) scale(0.8 1)" font-size="6.4" fill="#111111" stroke="#111111" stroke-width="0.14">LEBACH</text>
<line x1="626.90" y1="335.62" x2="631.70" y2="335.62" stroke="#8a8a8a" stroke-width="0.9"/>
<rect x="631.70" y="328.62" width="23.40" height="13.60" fill="#f3d400" stroke="#8a7a10" stroke-width="0.6"/>
<path d="M631.70 342.22L655.10 328.62" stroke="#4a4010" stroke-width="0.5" fill="none"/>
<path d="M638.20 340.72Q640.80 336.12 643.40 340.72Q646.00 336.12 648.60 340.72" fill="none" stroke="#3a3010" stroke-width="0.75"/>
<line x1="643.40" y1="324.62" x2="643.40" y2="328.62" stroke="#777" stroke-width="0.6"/>
<text transform="translate(656.40 334.82) scale(0.8 1)" font-size="6.4" fill="#111111" stroke="#111111" stroke-width="0.14">Airborne Recon Coy. 310</text>
<text transform="translate(656.40 342.42) scale(0.8 1)" font-size="6.4" fill="#111111" stroke="#111111" stroke-width="0.14">SEEDORF</text>
<line x1="626.90" y1="361.00" x2="631.70" y2="361.00" stroke="#8a8a8a" stroke-width="0.9"/>
<rect x="631.70" y="354.00" width="23.40" height="13.60" fill="#c6c8df" stroke="#6f7190" stroke-width="0.6"/>
<path d="M637.50 361.30V357.40H649.30V361.30M643.40 357.40V361.30" fill="none" stroke="#383850" stroke-width="0.7"/>
<path d="M638.20 366.10Q640.80 361.50 643.40 366.10Q646.00 361.50 648.60 366.10" fill="none" stroke="#303060" stroke-width="0.75"/>
<line x1="643.40" y1="350.00" x2="643.40" y2="354.00" stroke="#777" stroke-width="0.6"/>
<text transform="translate(656.40 360.20) scale(0.8 1)" font-size="6.4" fill="#111111" stroke="#111111" stroke-width="0.14">Airborne Eng. Coy. 260</text>
<text transform="translate(656.40 367.80) scale(0.8 1)" font-size="6.4" fill="#111111" stroke="#111111" stroke-width="0.14">SAARLOUIS</text>
<line x1="626.90" y1="386.38" x2="631.70" y2="386.38" stroke="#8a8a8a" stroke-width="0.9"/>
<rect x="631.70" y="379.38" width="23.40" height="13.60" fill="#c6c8df" stroke="#6f7190" stroke-width="0.6"/>
<path d="M637.50 386.68V382.78H649.30V386.68M643.40 382.78V386.68" fill="none" stroke="#383850" stroke-width="0.7"/>
<path d="M638.20 391.48Q640.80 386.88 643.40 391.48Q646.00 386.88 648.60 391.48" fill="none" stroke="#303060" stroke-width="0.75"/>
<line x1="643.40" y1="375.38" x2="643.40" y2="379.38" stroke="#777" stroke-width="0.6"/>
<text transform="translate(656.40 385.58) scale(0.8 1)" font-size="6.4" fill="#111111" stroke="#111111" stroke-width="0.14">Airborne Eng. Coy. 270</text>
<text transform="translate(656.40 393.18) scale(0.8 1)" font-size="6.4" fill="#111111" stroke="#111111" stroke-width="0.14">SEEDORF</text>
<line x1="726.95" y1="183.30" x2="726.95" y2="192.60" stroke="#8a8a8a" stroke-width="0.9"/>
<text transform="translate(726.95 200.00) scale(0.86 1)" font-size="8.4" text-anchor="middle" fill="#1a1a1a">X</text>
<rect x="715.40" y="201.40" width="23.10" height="13.20" fill="#8dd84c" stroke="#4e8a20" stroke-width="0.6"/>
<rect x="722.15" y="204.60" width="9.6" height="6.8" fill="#47861a" stroke="#2a5010" stroke-width="0.4"/>
<text transform="translate(726.95 210.20) scale(0.9 1)" font-size="6.2" font-weight="bold" text-anchor="middle" fill="#0c1806">SF</text>
<text transform="translate(739.90 207.60) scale(0.8 1)" font-size="6.4" fill="#111111" stroke="#111111" stroke-width="0.14">Special Forces Cmd. (KSK)</text>
<text transform="translate(739.90 215.20) scale(0.8 1)" font-size="6.4" fill="#111111" stroke="#111111" stroke-width="0.14">CALW</text>
<line x1="715.40" y1="214.60" x2="715.40" y2="437.14" stroke="#8a8a8a" stroke-width="0.9"/>
<line x1="715.40" y1="234.10" x2="720.20" y2="234.10" stroke="#8a8a8a" stroke-width="0.9"/>
<rect x="720.20" y="227.10" width="23.40" height="13.60" fill="#8dd84c" stroke="#4e8a20" stroke-width="0.6"/>
<line x1="720.20" y1="231.45" x2="743.60" y2="231.45" stroke="#4e8a20" stroke-width="0.6"/>
<line x1="731.90" y1="223.10" x2="731.90" y2="227.10" stroke="#777" stroke-width="0.6"/>
<text transform="translate(744.90 233.30) scale(0.8 1)" font-size="6.4" fill="#111111" stroke="#111111" stroke-width="0.14">Staff &amp; Command</text>
<text transform="translate(744.90 240.90) scale(0.8 1)" font-size="6.4" fill="#111111" stroke="#111111" stroke-width="0.14">Support Company</text>
<line x1="715.40" y1="259.48" x2="720.20" y2="259.48" stroke="#8a8a8a" stroke-width="0.9"/>
<rect x="722.40" y="254.88" width="23.40" height="13.60" fill="#8dd84c" stroke="#4e8a20" stroke-width="0.6"/>
<rect x="721.30" y="253.68" width="23.40" height="13.60" fill="#8dd84c" stroke="#4e8a20" stroke-width="0.6"/>
<rect x="720.20" y="252.48" width="23.40" height="13.60" fill="#8dd84c" stroke="#4e8a20" stroke-width="0.6"/>
<rect x="725.60" y="255.88" width="12.6" height="6.8" fill="#47861a" stroke="#2a5010" stroke-width="0.4"/>
<text transform="translate(731.90 261.48) scale(0.9 1)" font-size="6.2" font-weight="bold" text-anchor="middle" fill="#0c1806">SOF</text>
<line x1="731.90" y1="248.48" x2="731.90" y2="252.48" stroke="#777" stroke-width="0.6"/>
<text transform="translate(746.80 260.88) scale(0.8 1)" font-size="6.4" fill="#111111" stroke="#111111" stroke-width="0.14">3x Commando</text>
<text transform="translate(746.80 268.48) scale(0.8 1)" font-size="6.4" fill="#111111" stroke="#111111" stroke-width="0.14">Companies</text>
<line x1="715.40" y1="284.86" x2="720.20" y2="284.86" stroke="#8a8a8a" stroke-width="0.9"/>
<rect x="720.20" y="277.86" width="23.40" height="13.60" fill="#8dd84c" stroke="#4e8a20" stroke-width="0.6"/>
<rect x="727.10" y="281.26" width="9.6" height="6.8" fill="#47861a" stroke="#2a5010" stroke-width="0.4"/>
<text transform="translate(731.90 286.86) scale(0.9 1)" font-size="6.2" font-weight="bold" text-anchor="middle" fill="#0c1806">SF</text>
<line x1="731.90" y1="273.86" x2="731.90" y2="277.86" stroke="#777" stroke-width="0.6"/>
<text transform="translate(744.90 284.06) scale(0.8 1)" font-size="6.4" fill="#111111" stroke="#111111" stroke-width="0.14">Special Commando</text>
<text transform="translate(744.90 291.66) scale(0.8 1)" font-size="6.4" fill="#111111" stroke="#111111" stroke-width="0.14">Company</text>
<line x1="715.40" y1="310.24" x2="720.20" y2="310.24" stroke="#8a8a8a" stroke-width="0.9"/>
<rect x="720.20" y="303.24" width="23.40" height="13.60" fill="#8dd84c" stroke="#4e8a20" stroke-width="0.6"/>
<path d="M720.20 316.84L743.60 303.24" stroke="#2a5010" stroke-width="0.5" fill="none"/>
<rect x="727.10" y="306.64" width="9.6" height="6.8" fill="#47861a" stroke="#2a5010" stroke-width="0.4"/>
<text transform="translate(731.90 312.24) scale(0.9 1)" font-size="6.2" font-weight="bold" text-anchor="middle" fill="#0c1806">SF</text>
<line x1="731.90" y1="299.24" x2="731.90" y2="303.24" stroke="#777" stroke-width="0.6"/>
<text transform="translate(744.90 309.44) scale(0.8 1)" font-size="6.4" fill="#111111" stroke="#111111" stroke-width="0.14">Special Recon</text>
<text transform="translate(744.90 317.04) scale(0.8 1)" font-size="6.4" fill="#111111" stroke="#111111" stroke-width="0.14">Company</text>
<line x1="715.40" y1="335.62" x2="720.20" y2="335.62" stroke="#8a8a8a" stroke-width="0.9"/>
<rect x="720.20" y="328.62" width="23.40" height="13.60" fill="#8dd84c" stroke="#4e8a20" stroke-width="0.6"/>
<path d="M720.20 328.62L731.67 338.68L732.37 332.56L743.60 342.22" fill="none" stroke="#2a5010" stroke-width="0.7"/>
<line x1="731.90" y1="324.62" x2="731.90" y2="328.62" stroke="#777" stroke-width="0.6"/>
<text transform="translate(744.90 334.82) scale(0.8 1)" font-size="6.4" fill="#111111" stroke="#111111" stroke-width="0.14">Signal</text>
<text transform="translate(744.90 342.42) scale(0.8 1)" font-size="6.4" fill="#111111" stroke="#111111" stroke-width="0.14">Company</text>
<line x1="715.40" y1="361.00" x2="720.20" y2="361.00" stroke="#8a8a8a" stroke-width="0.9"/>
<rect x="720.20" y="354.00" width="23.40" height="13.60" fill="#9d9cf0" stroke="#5a5aa8" stroke-width="0.6"/>
<line x1="720.20" y1="364.60" x2="743.60" y2="364.60" stroke="#5a5aa8" stroke-width="0.6"/>
<line x1="731.90" y1="350.00" x2="731.90" y2="354.00" stroke="#777" stroke-width="0.6"/>
<text transform="translate(744.90 360.20) scale(0.8 1)" font-size="6.4" fill="#111111" stroke="#111111" stroke-width="0.14">Support</text>
<text transform="translate(744.90 367.80) scale(0.8 1)" font-size="6.4" fill="#111111" stroke="#111111" stroke-width="0.14">Company</text>
<line x1="715.40" y1="386.38" x2="720.20" y2="386.38" stroke="#8a8a8a" stroke-width="0.9"/>
<rect x="720.20" y="379.38" width="23.40" height="13.60" fill="#8dd84c" stroke="#4e8a20" stroke-width="0.6"/>
<rect x="727.10" y="382.78" width="9.6" height="6.8" fill="#47861a" stroke="#2a5010" stroke-width="0.4"/>
<text transform="translate(731.90 388.38) scale(0.9 1)" font-size="6.2" font-weight="bold" text-anchor="middle" fill="#0c1806">SF</text>
<line x1="731.90" y1="375.38" x2="731.90" y2="379.38" stroke="#777" stroke-width="0.6"/>
<text transform="translate(744.90 385.58) scale(0.8 1)" font-size="6.4" fill="#111111" stroke="#111111" stroke-width="0.14">Training</text>
<text transform="translate(744.90 393.18) scale(0.8 1)" font-size="6.4" fill="#111111" stroke="#111111" stroke-width="0.14">Department</text>
<line x1="715.40" y1="411.76" x2="720.20" y2="411.76" stroke="#8a8a8a" stroke-width="0.9"/>
<rect x="720.20" y="404.76" width="23.40" height="13.60" fill="#8dd84c" stroke="#4e8a20" stroke-width="0.6"/>
<rect x="727.10" y="408.16" width="9.6" height="6.8" fill="#47861a" stroke="#2a5010" stroke-width="0.4"/>
<text transform="translate(731.90 413.76) scale(0.9 1)" font-size="6.2" font-weight="bold" text-anchor="middle" fill="#0c1806">SF</text>
<line x1="731.90" y1="400.76" x2="731.90" y2="404.76" stroke="#777" stroke-width="0.6"/>
<text transform="translate(744.90 410.96) scale(0.8 1)" font-size="6.4" fill="#111111" stroke="#111111" stroke-width="0.14">Development</text>
<text transform="translate(744.90 418.56) scale(0.8 1)" font-size="6.4" fill="#111111" stroke="#111111" stroke-width="0.14">Department</text>
<line x1="715.40" y1="437.14" x2="720.20" y2="437.14" stroke="#8a8a8a" stroke-width="0.9"/>
<rect x="720.20" y="430.14" width="23.40" height="13.60" fill="#ffffff" stroke="#444" stroke-width="0.6"/>
<line x1="720.20" y1="436.94" x2="743.60" y2="436.94" stroke="#444" stroke-width="0.5"/>
<line x1="731.90" y1="430.14" x2="731.90" y2="443.74" stroke="#444" stroke-width="0.5"/>
<line x1="731.90" y1="426.14" x2="731.90" y2="430.14" stroke="#777" stroke-width="0.6"/>
<text transform="translate(744.90 436.34) scale(0.8 1)" font-size="6.4" fill="#111111" stroke="#111111" stroke-width="0.14">Medical</text>
<text transform="translate(744.90 443.94) scale(0.8 1)" font-size="6.4" fill="#111111" stroke="#111111" stroke-width="0.14">Center</text>
<line x1="815.45" y1="183.30" x2="815.45" y2="192.60" stroke="#8a8a8a" stroke-width="0.9"/>
<text transform="translate(815.45 200.00) scale(0.86 1)" font-size="8.4" text-anchor="middle" fill="#1a1a1a">X</text>
<rect x="803.90" y="201.40" width="23.10" height="13.20" fill="#5fb6ec" stroke="#2e6a96" stroke-width="0.6"/>
<path d="M808.75 205.80Q812.95 207.10 815.45 207.40Q817.95 207.10 822.15 205.80L822.15 210.20Q817.95 208.90 815.45 208.60Q812.95 208.90 808.75 210.20Z" fill="#000"/>
<text transform="translate(828.40 207.60) scale(0.8 1)" font-size="6.4" fill="#111111" stroke="#111111" stroke-width="0.14">Helicopter Command</text>
<text transform="translate(828.40 215.20) scale(0.8 1)" font-size="6.4" fill="#111111" stroke="#111111" stroke-width="0.14">AMBERG</text>
<line x1="803.90" y1="214.60" x2="803.90" y2="310.24" stroke="#8a8a8a" stroke-width="0.9"/>
<line x1="803.90" y1="234.10" x2="808.70" y2="234.10" stroke="#8a8a8a" stroke-width="0.9"/>
<rect x="808.70" y="227.10" width="23.40" height="13.60" fill="#5fb6ec" stroke="#2e6a96" stroke-width="0.6"/>
<path d="M813.70 231.70Q817.90 233.00 820.40 233.30Q822.90 233.00 827.10 231.70L827.10 236.10Q822.90 234.80 820.40 234.50Q817.90 234.80 813.70 236.10Z" fill="#000"/>
<text x="820.40" y="231.60" font-size="4.3" font-weight="bold" text-anchor="middle" fill="#081830">C</text>
<text x="820.40" y="240.20" font-size="4.3" font-weight="bold" text-anchor="middle" fill="#081830">M</text>
<line x1="814.90" y1="223.10" x2="814.90" y2="227.10" stroke="#777" stroke-width="0.6"/>
<line x1="820.40" y1="223.10" x2="820.40" y2="227.10" stroke="#777" stroke-width="0.6"/>
<line x1="825.90" y1="223.10" x2="825.90" y2="227.10" stroke="#777" stroke-width="0.6"/>
<text transform="translate(833.40 233.30) scale(0.8 1)" font-size="6.4" fill="#111111" stroke="#111111" stroke-width="0.14">Transport Heli. Rgt. 10</text>
<text transform="translate(833.40 240.90) scale(0.8 1)" font-size="6.4" fill="#111111" stroke="#111111" stroke-width="0.14">FASSBERG</text>
<line x1="803.90" y1="259.48" x2="808.70" y2="259.48" stroke="#8a8a8a" stroke-width="0.9"/>
<rect x="808.70" y="252.48" width="23.40" height="13.60" fill="#5fb6ec" stroke="#2e6a96" stroke-width="0.6"/>
<path d="M813.70 257.08Q817.90 258.38 820.40 258.68Q822.90 258.38 827.10 257.08L827.10 261.48Q822.90 260.18 820.40 259.88Q817.90 260.18 813.70 261.48Z" fill="#000"/>
<text x="820.40" y="256.98" font-size="4.3" font-weight="bold" text-anchor="middle" fill="#081830">C</text>
<text x="820.40" y="265.58" font-size="4.3" font-weight="bold" text-anchor="middle" fill="#081830">M</text>
<line x1="814.90" y1="248.48" x2="814.90" y2="252.48" stroke="#777" stroke-width="0.6"/>
<line x1="820.40" y1="248.48" x2="820.40" y2="252.48" stroke="#777" stroke-width="0.6"/>
<line x1="825.90" y1="248.48" x2="825.90" y2="252.48" stroke="#777" stroke-width="0.6"/>
<text transform="translate(833.40 258.68) scale(0.8 1)" font-size="6.4" fill="#111111" stroke="#111111" stroke-width="0.14">Transport Heli. Rgt. 30</text>
<text transform="translate(833.40 266.28) scale(0.8 1)" font-size="6.4" fill="#111111" stroke="#111111" stroke-width="0.14">NIEDERSTETTEN</text>
<line x1="803.90" y1="284.86" x2="808.70" y2="284.86" stroke="#8a8a8a" stroke-width="0.9"/>
<rect x="808.70" y="277.86" width="23.40" height="13.60" fill="#5fb6ec" stroke="#2e6a96" stroke-width="0.6"/>
<path d="M813.70 282.46Q817.90 283.76 820.40 284.06Q822.90 283.76 827.10 282.46L827.10 286.86Q822.90 285.56 820.40 285.26Q817.90 285.56 813.70 286.86Z" fill="#000"/>
<text x="820.40" y="282.36" font-size="4.3" font-weight="bold" text-anchor="middle" fill="#081830">A</text>
<line x1="814.90" y1="273.86" x2="814.90" y2="277.86" stroke="#777" stroke-width="0.6"/>
<line x1="820.40" y1="273.86" x2="820.40" y2="277.86" stroke="#777" stroke-width="0.6"/>
<line x1="825.90" y1="273.86" x2="825.90" y2="277.86" stroke="#777" stroke-width="0.6"/>
<text transform="translate(833.40 284.06) scale(0.8 1)" font-size="6.4" fill="#111111" stroke="#111111" stroke-width="0.14">Attack Helicopter Rgt. 36</text>
<text transform="translate(833.40 291.66) scale(0.8 1)" font-size="6.4" fill="#111111" stroke="#111111" stroke-width="0.14">FRITZLAR</text>
<line x1="803.90" y1="310.24" x2="808.70" y2="310.24" stroke="#8a8a8a" stroke-width="0.9"/>
<rect x="808.70" y="303.24" width="23.40" height="13.60" fill="#5fb6ec" stroke="#2e6a96" stroke-width="0.6"/>
<path d="M813.70 307.84Q817.90 309.14 820.40 309.44Q822.90 309.14 827.10 307.84L827.10 312.24Q822.90 310.94 820.40 310.64Q817.90 310.94 813.70 312.24Z" fill="#000"/>
<line x1="814.90" y1="299.24" x2="814.90" y2="303.24" stroke="#777" stroke-width="0.6"/>
<line x1="820.40" y1="299.24" x2="820.40" y2="303.24" stroke="#777" stroke-width="0.6"/>
<line x1="825.90" y1="299.24" x2="825.90" y2="303.24" stroke="#777" stroke-width="0.6"/>
<text transform="translate(833.40 309.44) scale(0.8 1)" font-size="6.4" fill="#111111" stroke="#111111" stroke-width="0.14">Int. Helicopter Training</text>
<text transform="translate(833.40 317.04) scale(0.8 1)" font-size="6.4" fill="#111111" stroke="#111111" stroke-width="0.14">Center (BÜCKEBURG)</text>
<line x1="892.60" y1="128.60" x2="892.60" y2="361.00" stroke="#8a8a8a" stroke-width="0.9"/>
<line x1="892.60" y1="208.40" x2="898.10" y2="208.40" stroke="#8a8a8a" stroke-width="0.9"/>
<rect x="898.10" y="201.40" width="23.40" height="13.60" fill="#5fb31b" stroke="#2f6a08" stroke-width="0.6"/>
<path d="M898.10 201.40L921.50 215.00M921.50 201.40L898.10 215.00" stroke="#2a5a10" stroke-width="0.65" fill="none"/>
<text transform="translate(909.80 200.10) scale(0.86 1)" font-size="8.4" text-anchor="middle" fill="#1a1a1a">X</text>
<text transform="translate(922.50 207.60) scale(0.8 1)" font-size="6.4" fill="#111111" stroke="#111111" stroke-width="0.14">Infantry Training Center</text>
<text transform="translate(922.50 215.20) scale(0.8 1)" font-size="6.4" fill="#111111" stroke="#111111" stroke-width="0.14">HAMMELBURG</text>
<line x1="892.60" y1="234.10" x2="898.10" y2="234.10" stroke="#8a8a8a" stroke-width="0.9"/>
<rect x="898.10" y="227.10" width="23.40" height="13.60" fill="#ea7a7c" stroke="#9b3b3b" stroke-width="0.6"/>
<ellipse cx="909.80" cy="233.90" rx="8.20" ry="2.90" fill="#ea7a7c" stroke="#9a2020" stroke-width="0.85"/>
<text transform="translate(909.80 225.80) scale(0.86 1)" font-size="8.4" text-anchor="middle" fill="#1a1a1a">X</text>
<text transform="translate(922.50 233.30) scale(0.8 1)" font-size="6.4" fill="#111111" stroke="#111111" stroke-width="0.14">Training Center Munster</text>
<text transform="translate(922.50 240.90) scale(0.8 1)" font-size="6.4" fill="#111111" stroke="#111111" stroke-width="0.14">MUNSTER</text>
<line x1="892.60" y1="259.48" x2="898.10" y2="259.48" stroke="#8a8a8a" stroke-width="0.9"/>
<rect x="898.10" y="252.48" width="23.40" height="13.60" fill="#c6c8df" stroke="#6f7190" stroke-width="0.6"/>
<path d="M903.90 261.58V257.68H915.70V261.58M909.80 257.68V261.58" fill="none" stroke="#383850" stroke-width="0.7"/>
<text transform="translate(909.80 251.18) scale(0.86 1)" font-size="8.4" text-anchor="middle" fill="#1a1a1a">X</text>
<text transform="translate(922.50 258.68) scale(0.8 1)" font-size="6.4" fill="#111111" stroke="#111111" stroke-width="0.14">Engineer Training Center</text>
<text transform="translate(922.50 266.28) scale(0.8 1)" font-size="6.4" fill="#111111" stroke="#111111" stroke-width="0.14">INGOLSTADT</text>
<line x1="892.60" y1="284.86" x2="898.10" y2="284.86" stroke="#8a8a8a" stroke-width="0.9"/>
<rect x="898.10" y="277.86" width="23.40" height="13.60" fill="#9d9cf0" stroke="#5a5aa8" stroke-width="0.6"/>
<path d="M903.80 282.76Q905.60 284.06 906.40 284.36Q905.60 284.66 903.80 285.96M906.40 284.36H913.20M915.80 282.76Q914.00 284.06 913.20 284.36Q914.00 284.66 915.80 285.96" fill="none" stroke="#1a1a5a" stroke-width="0.75"/>
<line x1="898.10" y1="288.46" x2="921.50" y2="288.46" stroke="#5a5aa8" stroke-width="0.6"/>
<text transform="translate(909.80 276.56) scale(0.86 1)" font-size="8.4" text-anchor="middle" fill="#1a1a1a">X</text>
<text transform="translate(922.50 284.06) scale(0.8 1)" font-size="6.4" fill="#111111" stroke="#111111" stroke-width="0.14">Land Systems Technology</text>
<text transform="translate(922.50 291.66) scale(0.8 1)" font-size="6.4" fill="#111111" stroke="#111111" stroke-width="0.14">Training Center (AACHEN)</text>
<line x1="892.60" y1="310.24" x2="898.10" y2="310.24" stroke="#8a8a8a" stroke-width="0.9"/>
<rect x="898.10" y="303.24" width="23.40" height="13.60" fill="#8dd84c" stroke="#4e8a20" stroke-width="0.6"/>
<rect x="903.50" y="306.64" width="12.6" height="6.8" fill="#47861a" stroke="#2a5010" stroke-width="0.4"/>
<text transform="translate(909.80 312.24) scale(0.9 1)" font-size="6.2" font-weight="bold" text-anchor="middle" fill="#0c1806">SOF</text>
<line x1="904.30" y1="299.24" x2="904.30" y2="303.24" stroke="#777" stroke-width="0.6"/>
<line x1="909.80" y1="299.24" x2="909.80" y2="303.24" stroke="#777" stroke-width="0.6"/>
<line x1="915.30" y1="299.24" x2="915.30" y2="303.24" stroke="#777" stroke-width="0.6"/>
<text transform="translate(922.50 309.44) scale(0.8 1)" font-size="6.4" fill="#111111" stroke="#111111" stroke-width="0.14">Special Operations Training</text>
<text transform="translate(922.50 317.04) scale(0.8 1)" font-size="6.4" fill="#111111" stroke="#111111" stroke-width="0.14">Center (PFULLENDORF)</text>
<line x1="892.60" y1="335.62" x2="898.10" y2="335.62" stroke="#8a8a8a" stroke-width="0.9"/>
<rect x="898.10" y="328.62" width="23.40" height="13.60" fill="#9fd6f4" stroke="#4a7a9a" stroke-width="0.6"/>
<path d="M898.10 328.62L921.50 342.22M921.50 328.62L898.10 342.22" stroke="#2a4a6a" stroke-width="0.65" fill="none"/>
<path d="M904.60 340.72Q907.20 336.12 909.80 340.72Q912.40 336.12 915.00 340.72" fill="none" stroke="#16305a" stroke-width="0.75"/>
<line x1="904.30" y1="324.62" x2="904.30" y2="328.62" stroke="#777" stroke-width="0.6"/>
<line x1="909.80" y1="324.62" x2="909.80" y2="328.62" stroke="#777" stroke-width="0.6"/>
<line x1="915.30" y1="324.62" x2="915.30" y2="328.62" stroke="#777" stroke-width="0.6"/>
<text transform="translate(922.50 334.82) scale(0.8 1)" font-size="6.4" fill="#111111" stroke="#111111" stroke-width="0.14">Air Mobility Training</text>
<text transform="translate(922.50 342.42) scale(0.8 1)" font-size="6.4" fill="#111111" stroke="#111111" stroke-width="0.14">&amp; Exercise Center (CELLE)</text>
<line x1="892.60" y1="361.00" x2="898.10" y2="361.00" stroke="#8a8a8a" stroke-width="0.9"/>
<rect x="898.10" y="354.00" width="23.40" height="13.60" fill="#5fb31b" stroke="#2f6a08" stroke-width="0.6"/>
<path d="M898.10 354.00L921.50 367.60M921.50 354.00L898.10 367.60" stroke="#2a5a10" stroke-width="0.65" fill="none"/>
<line x1="904.30" y1="350.00" x2="904.30" y2="354.00" stroke="#777" stroke-width="0.6"/>
<line x1="909.80" y1="350.00" x2="909.80" y2="354.00" stroke="#777" stroke-width="0.6"/>
<line x1="915.30" y1="350.00" x2="915.30" y2="354.00" stroke="#777" stroke-width="0.6"/>
<text transform="translate(922.50 360.20) scale(0.8 1)" font-size="6.4" fill="#111111" stroke="#111111" stroke-width="0.14">Bundeswehr UN Training</text>
<text transform="translate(922.50 367.80) scale(0.8 1)" font-size="6.4" fill="#111111" stroke="#111111" stroke-width="0.14">Center (HAMMELBURG)</text>
</svg>
</body></html>
